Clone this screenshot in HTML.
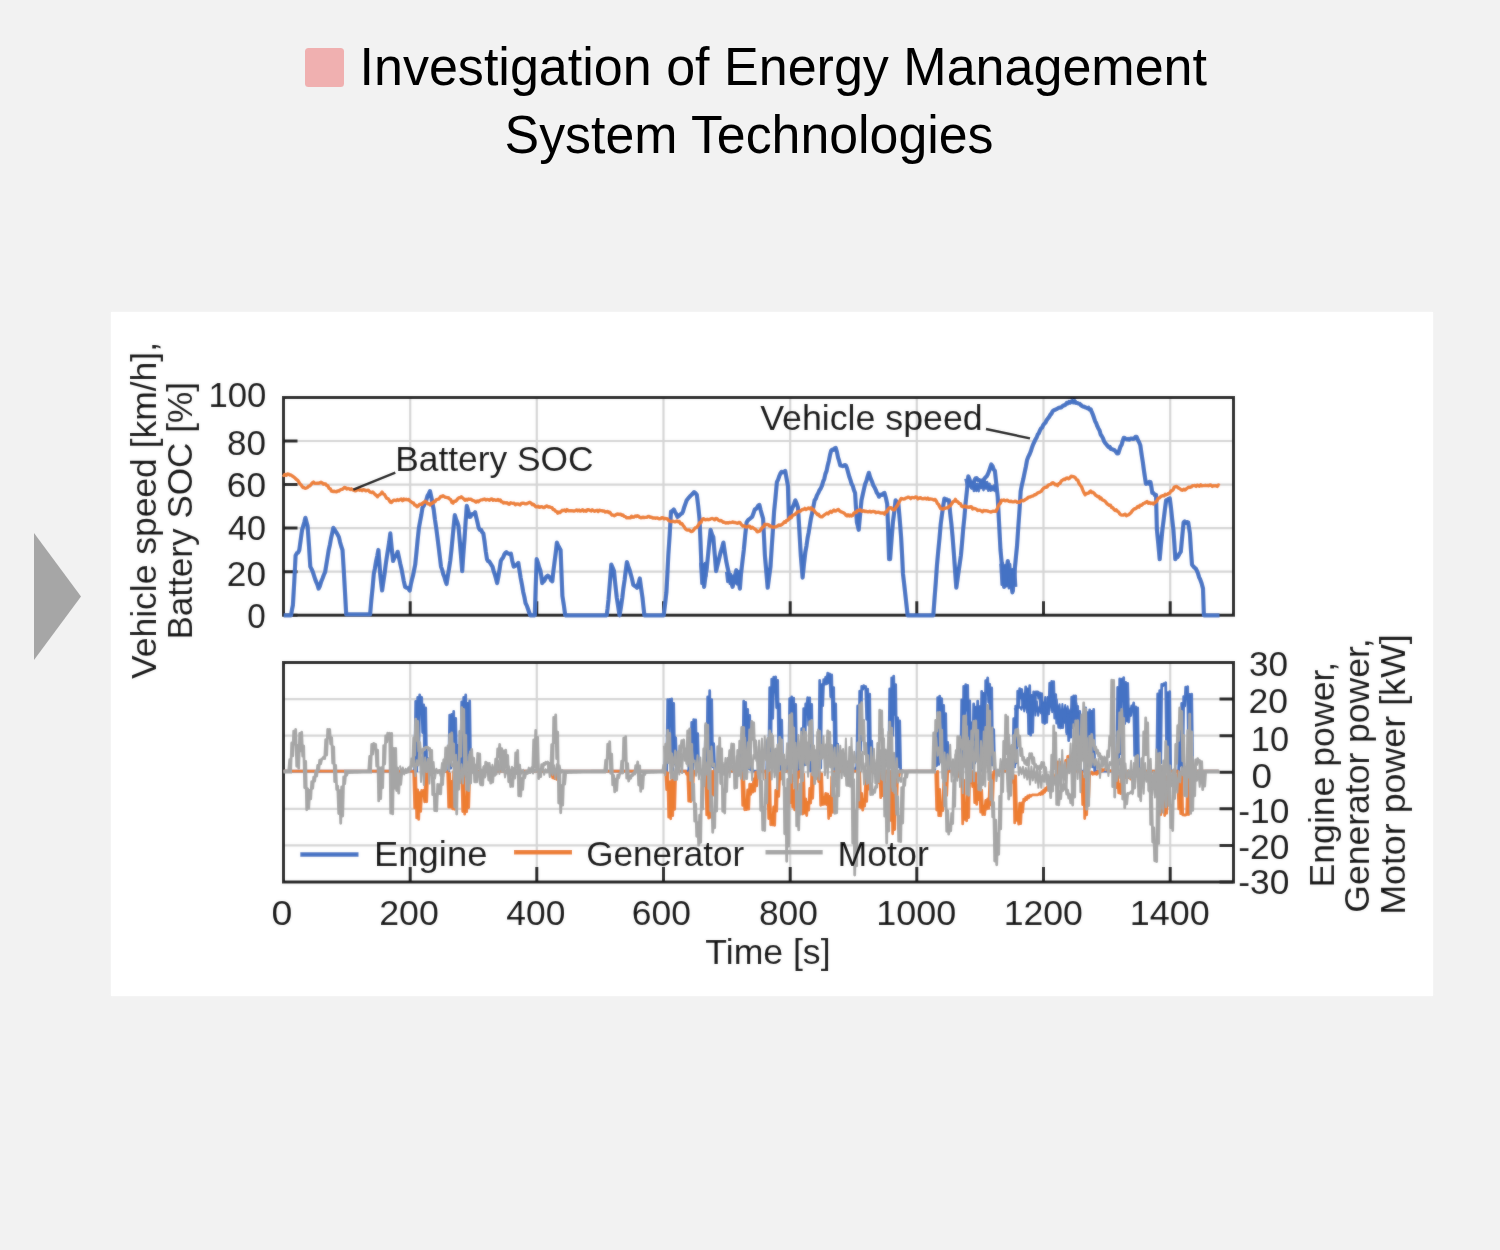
<!DOCTYPE html>
<html><head><meta charset="utf-8"><title>Investigation of Energy Management System Technologies</title>
<style>
html,body{margin:0;padding:0;width:1500px;height:1250px;overflow:hidden;background:#f2f2f2;}
svg{position:absolute;left:0;top:0;display:block;}
text{font-family:"Liberation Sans",sans-serif;}
</style></head><body>
<svg width="1500" height="1250" viewBox="0 0 1500 1250">
<rect x="0" y="0" width="1500" height="1250" fill="#f2f2f2"/>
<polygon points="34,533 81,596.5 34,660" fill="#a6a6a6"/>
<rect x="305" y="48" width="39" height="39" rx="3.5" fill="#f0b0b0"/>
<text transform="translate(359.52,85.20) scale(0.9728,1)" font-size="53.5" fill="#000">Investigation of Energy Management</text>
<text transform="translate(504.57,153.00) scale(0.9694,1)" font-size="53.5" fill="#000">System Technologies</text>
<defs><filter id="soft" x="0" y="0" width="1500" height="1250" filterUnits="userSpaceOnUse"><feGaussianBlur stdDeviation="1.0"/></filter><filter id="ident" x="0" y="0" width="1500" height="1250" filterUnits="userSpaceOnUse"><feOffset dx="0" dy="0"/></filter></defs>
<g filter="url(#ident)"><g id="chart">
<rect x="111" y="312" width="1322" height="684" fill="#ffffff"/>
<path d="M283.5,571.7H1233.5M283.5,528.1H1233.5M283.5,484.6H1233.5M283.5,441.0H1233.5M410.2,397.5V615.2M536.8,397.5V615.2M663.5,397.5V615.2M790.2,397.5V615.2M916.8,397.5V615.2M1043.5,397.5V615.2M1170.2,397.5V615.2M283.5,845.4H1233.5M283.5,808.8H1233.5M283.5,772.2H1233.5M283.5,735.7H1233.5M283.5,699.1H1233.5M410.2,662.5V882.0M536.8,662.5V882.0M663.5,662.5V882.0M790.2,662.5V882.0M916.8,662.5V882.0M1043.5,662.5V882.0M1170.2,662.5V882.0" stroke="#d5d5d5" stroke-width="2.2" fill="none"/>
<rect x="283.5" y="397.5" width="950.0" height="217.70000000000005" fill="none" stroke="#111111" stroke-width="3"/>
<rect x="283.5" y="662.5" width="950.0" height="219.5" fill="none" stroke="#111111" stroke-width="3"/>
<path d="M283.5,615.2h14M283.5,571.7h14M283.5,528.1h14M283.5,484.6h14M283.5,441.0h14M283.5,397.5h14M410.2,615.2v-14M536.8,615.2v-14M663.5,615.2v-14M790.2,615.2v-14M916.8,615.2v-14M1043.5,615.2v-14M1170.2,615.2v-14M1233.5,882.0h-14M1233.5,845.4h-14M1233.5,808.8h-14M1233.5,772.2h-14M1233.5,735.7h-14M1233.5,699.1h-14M1233.5,662.5h-14M410.2,882.0v-15M536.8,882.0v-15M663.5,882.0v-15M790.2,882.0v-15M916.8,882.0v-15M1043.5,882.0v-15M1170.2,882.0v-15" stroke="#111111" stroke-width="3" fill="none"/>
<polyline points="700.3,562.6 701.5,583.8 702.7,564.1 703.9,587.3 705.1,563.0 706.3,576.0 707.5,564.4" fill="none" stroke="#4472c4" stroke-width="2.6" stroke-linejoin="round"/>
<polyline points="726.2,571.8 727.4,581.9 728.6,573.7 729.8,583.8 731.0,574.2 732.2,585.9 733.4,575.8 734.6,583.4 735.8,574.6 737.0,584.4 738.2,571.4 739.4,583.9 740.6,569.8" fill="none" stroke="#4472c4" stroke-width="2.6" stroke-linejoin="round"/>
<polyline points="965.5,478.7 966.7,484.4 967.9,479.3 969.1,486.1 970.3,481.4 971.5,488.2 972.7,483.2 973.9,491.0 975.1,483.5 976.3,490.9 977.5,483.7 978.7,491.1 979.9,484.1 981.1,488.0 982.3,481.7 983.5,490.1 984.7,481.1 985.9,488.5 987.1,482.0 988.3,490.8 989.5,483.7 990.7,490.7 991.9,486.2 993.1,490.2 994.3,485.3 995.5,492.0" fill="none" stroke="#4472c4" stroke-width="2.6" stroke-linejoin="round"/>
<polyline points="1000.5,563.7 1001.7,584.6 1002.9,563.0 1004.1,580.4 1005.3,565.3 1006.5,586.3 1007.7,561.9 1008.9,588.3 1010.1,564.2 1011.3,586.0 1012.5,569.2 1013.7,590.8 1014.9,564.6 1016.1,586.9" fill="none" stroke="#4472c4" stroke-width="2.6" stroke-linejoin="round"/>
<polyline points="283.7,615.3 284.9,615.3 286.1,615.3 287.4,615.3 288.6,615.3 289.8,615.3 291.0,615.3 292.0,609.7 292.9,605.2 294.3,581.0 295.6,555.5 296.9,553.2 298.1,552.6 299.3,550.0 300.7,539.9 302.1,529.8 303.2,526.0 304.3,522.3 305.4,517.8 306.5,522.0 307.6,526.1 309.0,546.0 310.3,566.6 311.6,569.1 312.8,571.9 314.0,575.7 315.2,579.4 316.3,582.1 317.5,584.8 318.6,588.6 319.9,586.0 321.2,581.6 322.5,578.5 323.8,575.0 325.1,572.1 326.3,564.9 327.5,557.5 328.7,550.0 329.9,544.7 331.0,538.5 332.2,533.1 333.3,527.9 334.4,529.3 335.5,531.3 336.6,532.8 337.7,534.7 338.9,537.1 340.1,542.3 341.3,546.5 342.5,550.0 343.8,570.9 345.0,592.1 346.2,614.4 347.4,614.4 348.6,614.4 349.8,614.4 351.0,614.4 352.2,614.4 353.4,614.4 354.6,614.4 355.8,614.4 357.0,614.4 358.2,614.4 359.4,614.4 360.6,614.4 361.7,614.4 362.9,614.4 364.1,614.4 365.3,614.4 366.5,614.4 367.7,614.4 368.9,614.4 370.1,614.4 371.3,600.3 372.6,587.8 373.8,573.9 374.9,568.4 376.1,561.1 377.2,556.1 378.4,550.0 379.3,561.1 380.2,573.9 381.1,582.2 382.1,590.5 383.3,582.1 384.5,574.2 385.7,564.7 386.9,556.5 388.0,549.6 389.2,541.9 390.3,533.4 391.7,548.0 393.1,561.0 394.3,557.8 395.4,556.4 396.6,555.0 397.7,551.8 398.9,557.2 400.2,563.4 401.4,568.4 402.6,574.6 403.8,581.1 405.1,586.8 406.2,587.7 407.4,587.8 408.5,588.8 409.7,590.5 410.8,584.6 411.9,579.7 413.0,575.8 414.1,570.1 415.2,564.7 416.4,553.0 417.6,540.3 418.9,527.9 420.1,521.4 421.3,515.0 422.5,507.7 423.8,505.7 425.0,502.9 426.3,500.0 427.5,495.9 428.8,493.7 430.0,491.1 431.2,496.4 432.5,503.5 433.7,509.5 434.9,519.3 436.1,527.1 437.4,537.1 438.6,546.4 439.8,556.5 441.0,566.6 442.1,569.6 443.2,574.1 444.3,576.8 445.4,580.8 446.6,584.0 447.8,576.3 449.0,568.8 450.2,561.0 451.4,550.3 452.5,538.8 453.7,525.9 454.8,515.1 456.1,519.4 457.3,522.1 458.5,526.1 459.7,540.4 461.0,555.9 462.2,571.1 463.3,554.8 464.5,539.3 465.6,522.0 466.8,505.9 468.2,510.5 469.5,516.9 470.6,516.6 471.7,514.4 472.9,514.1 474.0,513.8 475.1,512.3 476.3,517.5 477.5,522.6 478.7,527.9 479.9,529.9 481.0,529.8 482.2,532.2 483.3,533.4 484.6,541.9 485.8,551.5 487.0,559.2 488.1,561.2 489.2,561.3 490.3,563.1 491.4,565.0 492.5,566.6 493.7,571.1 494.8,574.5 496.0,578.7 497.1,583.1 498.4,576.5 499.6,569.2 500.8,561.0 502.0,558.8 503.1,557.6 504.3,554.5 505.4,552.8 506.5,552.2 507.6,553.2 508.7,553.6 509.8,554.2 510.9,553.7 512.3,561.0 513.7,566.6 514.8,566.1 516.0,565.2 517.1,564.2 518.3,562.9 519.5,570.6 520.7,578.1 522.0,584.9 523.2,591.9 524.4,597.0 525.6,603.3 526.8,605.6 527.9,608.8 529.1,612.3 530.2,615.3 531.4,615.3 532.5,615.3 533.7,615.3 534.8,615.3 535.7,586.7 536.7,559.2 537.9,562.6 539.1,567.1 540.3,570.2 541.3,575.9 542.2,583.1 543.3,581.5 544.4,580.7 545.5,578.3 546.6,576.4 547.7,575.7 548.9,576.7 550.0,577.8 551.1,580.4 552.3,581.3 553.4,571.0 554.6,561.4 555.7,552.9 556.9,542.6 558.1,545.7 559.3,547.7 560.6,550.0 561.5,573.7 562.4,596.0 563.8,604.8 565.2,615.3 566.4,615.3 567.5,615.3 568.7,615.3 569.9,615.3 571.1,615.3 572.2,615.3 573.4,615.3 574.6,615.3 575.8,615.3 577.0,615.3 578.1,615.3 579.3,615.3 580.5,615.3 581.7,615.3 582.9,615.3 584.0,615.3 585.2,615.3 586.4,615.3 587.6,615.3 588.8,615.3 589.9,615.3 591.1,615.3 592.3,615.3 593.5,615.3 594.7,615.3 595.9,615.3 597.1,615.3 598.3,615.3 599.5,615.3 600.7,615.3 601.9,615.3 603.1,615.3 604.3,615.3 605.5,615.3 606.7,615.3 607.6,608.3 608.5,599.7 609.9,582.3 611.3,564.7 612.6,567.6 614.0,571.1 615.4,585.1 616.8,597.8 618.2,606.8 619.5,615.3 620.9,607.4 622.3,597.8 623.4,588.1 624.6,580.0 625.7,570.9 626.9,562.0 628.3,566.4 629.7,570.2 630.9,574.7 632.1,579.2 633.3,584.9 634.6,585.9 635.8,586.5 637.0,587.7 638.4,583.8 639.8,578.5 641.1,588.1 642.5,597.8 643.4,606.4 644.4,615.3 645.6,615.3 646.8,615.3 648.0,615.3 649.2,615.3 650.4,615.3 651.6,615.3 652.8,615.3 654.0,615.3 655.2,615.3 656.4,615.3 657.6,615.3 658.9,615.3 660.1,615.3 661.3,615.3 662.5,615.3 663.7,615.3 665.1,604.0 666.4,592.3 667.4,574.0 668.3,555.5 669.7,534.3 671.0,511.4 672.4,511.0 673.8,509.5 675.0,512.0 676.2,513.9 677.5,516.9 678.6,516.0 679.7,515.1 680.8,514.0 681.9,513.4 683.0,511.4 684.2,507.2 685.4,503.9 686.7,500.3 687.9,498.8 689.1,497.3 690.3,496.0 691.6,494.8 692.8,493.5 694.0,492.1 695.4,493.0 696.8,494.8 698.2,506.1 699.5,518.7 700.5,541.4 701.4,564.7 702.8,575.1 704.1,586.8 705.5,576.3 706.9,566.6 708.1,554.6 709.3,542.2 710.6,529.8 712.0,534.3 713.3,537.1 714.7,554.2 716.1,571.1 717.2,566.4 718.4,561.8 719.5,557.1 720.7,551.8 722.1,547.4 723.4,542.6 724.8,552.0 726.2,561.0 727.6,567.7 729.0,573.9 730.2,577.9 731.4,583.0 732.6,586.8 733.9,581.5 735.1,575.4 736.3,570.2 737.5,575.9 738.7,581.7 739.9,588.6 741.0,573.9 742.4,561.7 743.8,550.0 745.2,535.3 746.6,522.4 747.7,520.7 748.8,519.4 749.9,518.7 751.0,517.7 752.1,516.9 753.4,513.4 754.8,509.5 756.0,508.9 757.1,507.5 758.3,505.5 759.4,504.9 760.7,510.2 761.9,514.6 763.1,518.7 764.0,537.1 764.9,555.5 766.3,571.9 767.7,587.7 769.1,577.1 770.5,566.6 771.7,547.6 772.9,530.0 774.1,511.4 775.5,497.5 776.9,482.0 778.0,479.9 779.2,476.3 780.3,473.7 781.5,471.8 782.7,472.3 783.9,472.0 785.2,470.9 786.6,478.7 787.9,485.6 788.9,518.7 790.1,515.5 791.3,510.7 792.5,507.7 793.9,504.6 795.3,500.3 796.7,503.5 798.0,507.7 799.4,531.0 800.8,555.5 801.7,566.4 802.6,577.6 804.0,563.8 805.4,551.8 806.5,545.8 807.6,538.0 808.7,532.4 809.8,525.5 810.9,518.7 812.1,513.1 813.4,506.7 814.6,500.3 815.8,498.7 817.0,495.2 818.3,493.0 819.5,490.2 820.7,488.5 822.0,485.6 823.1,481.6 824.3,478.8 825.4,473.9 826.6,470.9 827.7,465.4 828.9,460.7 830.0,455.1 831.1,450.7 832.3,449.5 833.4,449.9 834.6,448.4 835.7,447.9 836.9,451.8 838.0,457.3 839.2,461.2 840.3,465.4 841.4,465.6 842.6,466.1 843.7,465.8 844.8,465.0 845.9,465.4 847.0,468.2 848.2,472.8 849.3,476.8 850.5,480.1 851.6,483.9 852.8,486.0 853.9,490.0 855.1,493.0 856.0,508.5 856.9,522.4 857.8,525.7 858.7,529.8 860.1,514.7 861.5,500.3 862.7,494.7 863.9,489.4 865.2,483.8 866.4,481.0 867.6,476.6 868.9,472.8 870.0,476.7 871.1,479.5 872.3,482.4 873.4,485.6 874.6,487.5 875.7,489.8 876.8,492.8 877.9,493.9 879.0,496.7 880.1,495.3 881.2,494.7 882.3,494.8 883.4,493.5 884.5,493.0 885.9,498.0 887.2,504.0 888.2,531.3 889.1,559.2 890.1,559.2 891.5,540.1 892.9,522.4 894.3,511.3 895.6,500.3 897.0,502.7 898.4,504.0 899.8,520.5 901.1,537.1 902.1,555.4 903.0,573.9 904.1,583.4 905.3,594.2 906.4,604.2 907.6,615.3 908.8,615.3 910.0,615.3 911.3,615.3 912.5,615.3 913.7,615.3 914.9,615.3 916.2,615.3 917.4,615.3 918.6,615.3 919.8,615.3 921.1,615.3 922.3,615.3 923.5,615.3 924.8,615.3 926.0,615.3 927.2,615.3 928.4,615.3 929.7,615.3 930.9,615.3 932.1,615.3 933.3,615.3 934.6,597.6 935.8,582.2 937.0,564.7 938.2,551.6 939.5,538.3 940.7,524.3 941.9,515.0 943.1,506.8 944.4,498.5 945.5,499.7 946.7,499.3 947.8,500.7 949.0,500.3 950.2,513.4 951.4,524.0 952.6,537.1 953.9,553.9 955.1,571.0 956.3,587.7 957.5,579.4 958.6,571.4 959.8,563.3 960.9,555.5 962.1,542.2 963.2,528.9 964.4,517.3 965.5,504.0 966.9,491.1 968.3,476.4 969.5,479.3 970.7,484.4 972.0,487.5 973.2,484.5 974.4,480.5 975.6,478.3 976.7,478.2 977.8,479.8 978.9,479.8 980.0,480.9 981.1,482.0 982.3,480.4 983.4,480.6 984.5,478.6 985.6,477.2 986.7,476.4 987.8,474.2 989.0,471.3 990.1,467.9 991.3,464.5 992.5,466.0 993.7,469.5 994.9,470.9 996.3,483.7 997.7,496.7 999.1,523.8 1000.5,550.0 1001.7,562.7 1002.9,574.8 1004.1,586.8 1005.4,578.7 1006.6,570.2 1007.8,561.0 1009.0,568.8 1010.1,576.6 1011.3,583.8 1012.4,592.3 1013.6,580.6 1014.7,570.0 1015.9,557.3 1017.0,546.3 1018.2,528.4 1019.5,510.1 1020.7,491.1 1022.0,484.4 1023.3,479.1 1024.6,472.7 1025.8,467.0 1027.1,459.9 1028.4,456.6 1029.6,454.2 1030.8,451.3 1032.0,447.4 1033.3,444.1 1034.5,441.5 1035.6,439.1 1036.7,437.4 1037.8,434.4 1038.8,433.3 1039.9,430.5 1041.0,428.4 1042.1,427.6 1043.2,425.1 1044.3,423.7 1045.4,422.7 1046.6,420.3 1047.8,418.6 1049.0,417.2 1050.2,415.0 1051.5,413.5 1052.7,411.1 1053.9,410.2 1055.1,409.8 1056.4,409.2 1057.6,408.5 1058.8,407.8 1060.0,407.6 1061.3,407.5 1062.4,406.2 1063.5,405.4 1064.6,405.3 1065.7,404.5 1066.8,402.9 1067.9,403.3 1069.0,402.0 1070.1,402.5 1071.2,401.6 1072.3,401.0 1073.5,402.4 1074.8,401.3 1076.0,402.9 1077.2,403.0 1078.4,403.4 1079.7,403.8 1080.8,405.0 1081.9,405.9 1083.0,406.6 1084.1,406.5 1085.2,407.5 1086.3,407.6 1087.4,408.4 1088.5,407.8 1089.6,409.5 1090.7,409.3 1091.8,412.2 1092.9,414.7 1094.0,417.8 1095.1,421.2 1096.2,423.1 1097.3,426.2 1098.4,428.5 1099.5,430.3 1100.6,434.3 1101.7,436.0 1103.0,438.2 1104.2,441.6 1105.4,443.3 1106.5,444.4 1107.6,445.9 1108.7,447.3 1109.8,447.0 1110.9,448.9 1112.1,449.2 1113.4,449.8 1114.6,450.3 1115.8,451.6 1117.0,453.4 1118.3,453.4 1119.4,449.9 1120.5,446.5 1121.6,444.9 1122.7,440.9 1123.8,437.8 1124.9,438.1 1126.0,438.9 1127.1,439.5 1128.2,438.8 1129.3,439.7 1130.5,438.7 1131.8,438.6 1133.0,438.9 1134.2,438.6 1135.4,436.8 1136.7,436.9 1137.9,440.0 1139.1,442.3 1140.3,445.2 1141.6,454.4 1142.8,462.0 1144.0,470.9 1144.9,476.9 1145.9,483.8 1147.0,482.5 1148.2,483.5 1149.3,481.8 1150.5,482.0 1151.4,487.1 1152.3,493.0 1153.5,493.1 1154.8,495.0 1156.0,494.8 1156.9,529.8 1158.3,543.7 1159.7,559.2 1161.0,544.2 1162.4,529.8 1163.6,520.3 1164.9,509.6 1166.1,500.3 1167.3,499.9 1168.5,499.0 1169.8,498.5 1171.0,508.1 1172.2,519.5 1173.4,529.8 1174.4,544.2 1175.3,559.2 1176.4,557.2 1177.5,557.1 1178.6,555.4 1179.7,553.2 1180.8,551.8 1182.2,536.8 1183.6,522.4 1184.7,521.5 1185.9,522.8 1187.0,522.0 1188.2,522.4 1189.9,533.4 1190.9,549.1 1192.0,564.7 1193.2,566.2 1194.4,567.6 1195.6,568.4 1196.8,570.5 1197.9,573.2 1199.1,577.2 1200.2,579.4 1201.6,583.2 1203.0,588.6 1203.9,615.3 1205.1,615.3 1206.3,615.3 1207.5,615.3 1208.7,615.3 1209.9,615.3 1211.1,615.3 1212.3,615.3 1213.5,615.3 1214.7,615.3 1215.9,615.3 1217.1,615.3 1218.3,615.3 1219.5,615.3" fill="none" stroke="#4472c4" stroke-width="4.2" stroke-linejoin="round"/>
<polyline points="282.8,474.6 283.9,475.4 285.1,474.4 286.3,475.3 287.5,474.0 288.7,474.2 289.9,475.1 291.0,475.0 292.3,476.0 293.6,476.9 294.9,477.8 296.2,479.3 297.5,480.1 298.6,481.5 299.7,483.5 300.8,484.6 301.9,486.1 303.0,487.5 304.1,487.7 305.3,488.4 306.4,488.0 307.6,487.5 308.7,486.2 309.9,485.8 311.0,484.6 312.2,482.9 313.4,482.1 314.7,483.3 316.0,483.4 317.2,483.3 318.5,483.3 319.8,482.9 321.0,482.2 322.3,482.9 323.4,484.2 324.5,483.8 325.6,484.0 326.7,485.5 327.8,485.6 329.0,488.4 330.3,488.9 331.5,491.1 332.7,491.5 333.9,491.3 335.2,491.5 336.4,491.9 337.6,490.9 338.9,491.1 340.0,490.0 341.1,489.5 342.2,489.4 343.3,488.6 344.4,487.5 345.5,487.6 346.7,489.0 347.8,488.4 349.0,488.6 350.1,489.6 351.3,488.8 352.4,489.7 353.6,490.2 354.8,490.7 356.0,490.7 357.2,489.8 358.5,489.7 359.7,490.2 360.9,489.9 362.1,490.7 363.4,489.7 364.6,489.9 365.8,490.8 367.0,490.4 368.3,490.2 369.4,491.5 370.5,492.2 371.6,492.5 372.7,491.9 373.8,493.0 375.0,494.4 376.2,495.4 377.5,496.7 378.6,495.3 379.8,494.8 380.9,493.8 382.1,492.1 383.3,493.9 384.5,494.5 385.7,496.7 386.9,498.4 388.0,498.6 389.2,500.3 390.3,502.2 391.5,502.5 392.6,501.1 393.8,500.2 394.9,500.3 396.2,500.6 397.5,499.6 398.7,500.4 400.0,499.6 401.2,499.1 402.5,500.7 403.7,499.0 405.0,499.7 406.2,499.3 407.5,499.8 408.7,499.4 409.9,501.1 411.1,501.7 412.3,502.7 413.5,502.9 414.6,505.1 415.8,505.2 417.0,506.8 418.2,506.0 419.4,504.4 420.6,504.1 421.7,504.3 422.9,502.9 424.1,502.1 425.3,501.3 426.5,501.9 427.6,503.7 428.8,503.6 430.0,504.9 431.2,503.3 432.5,503.2 433.7,501.8 434.9,501.8 436.1,499.8 437.4,499.4 438.5,499.2 439.6,498.1 440.7,496.4 441.8,496.6 442.9,495.7 444.0,496.4 445.1,497.3 446.2,497.4 447.3,497.7 448.4,497.6 449.5,499.0 450.7,499.5 451.8,502.3 453.0,503.1 454.2,501.3 455.4,501.4 456.5,500.5 457.7,498.7 458.9,497.7 460.1,497.7 461.3,496.7 462.5,497.9 463.7,498.8 464.9,500.3 466.1,499.3 467.2,500.1 468.4,499.0 469.5,499.4 470.8,499.1 472.1,500.1 473.4,500.7 474.7,501.1 476.0,502.2 477.2,500.9 478.4,501.8 479.7,500.6 480.9,499.9 482.1,499.9 483.3,499.4 484.6,499.0 485.8,500.1 487.0,499.4 488.2,499.6 489.5,500.3 490.7,499.2 491.9,498.9 493.1,500.3 494.4,499.6 495.6,500.3 496.8,500.3 498.0,499.4 499.1,500.5 500.3,500.0 501.4,501.8 502.5,501.9 503.6,503.1 504.7,502.5 505.9,503.0 507.1,502.8 508.2,503.9 509.4,504.3 510.6,502.8 511.8,503.2 512.9,503.4 514.1,503.2 515.3,504.8 516.4,504.0 517.7,503.9 518.9,504.4 520.1,504.9 521.3,503.5 522.6,503.2 523.8,503.1 525.0,503.8 526.2,503.9 527.5,503.4 528.7,502.7 529.9,502.3 531.1,503.1 532.3,504.7 533.4,504.3 534.6,505.4 535.7,506.8 537.0,506.9 538.3,506.3 539.5,507.4 540.8,506.8 542.0,506.8 543.3,507.5 544.5,507.5 545.8,506.3 547.0,505.9 548.3,507.1 549.5,506.8 550.8,507.3 552.0,507.7 553.2,509.5 554.4,509.7 555.5,511.2 556.7,511.6 557.8,513.2 558.9,512.1 560.0,512.6 561.1,511.5 562.2,510.3 563.3,510.5 564.5,509.9 565.8,511.2 567.0,509.6 568.2,510.7 569.4,510.7 570.6,510.8 571.8,510.6 573.0,511.0 574.2,511.0 575.4,510.7 576.6,509.9 577.8,510.9 579.1,510.1 580.3,511.1 581.5,510.6 582.7,509.7 583.9,511.2 585.1,510.4 586.3,511.3 587.5,509.6 588.7,509.8 589.9,510.5 591.1,511.0 592.3,509.8 593.5,510.6 594.6,511.3 595.8,510.6 597.0,510.3 598.2,511.5 599.3,510.2 600.5,510.6 601.7,510.6 602.9,511.1 604.1,510.9 605.2,512.0 606.4,511.8 607.6,511.4 608.7,512.5 609.8,512.2 610.9,513.8 612.0,515.0 613.1,515.1 614.3,515.7 615.6,515.0 616.8,514.2 618.0,514.0 619.2,514.5 620.5,514.1 621.7,515.2 622.9,515.0 624.1,516.3 625.4,516.6 626.6,517.8 627.8,517.8 629.0,517.8 630.3,517.9 631.5,516.2 632.7,517.2 633.9,517.1 635.2,516.0 636.3,516.5 637.4,515.8 638.5,516.2 639.6,517.3 640.7,517.8 641.9,517.5 643.1,517.3 644.4,517.5 645.6,517.4 646.8,517.3 648.0,516.5 649.1,516.5 650.3,517.3 651.4,517.1 652.5,518.0 653.6,517.8 654.7,518.0 655.9,518.2 657.1,517.9 658.2,518.4 659.4,518.9 660.6,518.6 661.8,517.7 662.9,517.7 664.1,518.9 665.3,518.4 666.4,518.7 667.5,519.0 668.6,520.5 669.7,521.0 670.9,521.5 672.0,521.5 673.2,521.2 674.4,521.7 675.6,521.7 676.9,521.0 678.1,521.7 679.3,521.5 680.5,523.8 681.8,523.4 683.0,525.2 684.2,526.7 685.4,528.9 686.7,529.8 687.8,530.1 689.0,529.9 690.1,530.8 691.3,531.6 692.6,531.1 693.8,529.8 695.1,527.9 696.4,527.6 697.7,526.1 698.8,524.3 699.9,522.5 701.0,522.6 702.1,519.8 703.2,518.7 704.3,519.1 705.4,519.9 706.5,519.5 707.6,519.3 708.7,519.7 709.9,519.3 711.1,518.6 712.3,518.5 713.5,519.0 714.6,519.8 715.8,518.4 717.0,518.7 718.3,520.1 719.6,520.8 720.9,520.4 722.2,521.3 723.4,522.4 724.6,522.3 725.8,523.1 727.0,522.7 728.2,523.0 729.3,522.4 730.5,522.6 731.7,522.3 732.9,522.0 734.0,522.6 735.2,522.5 736.4,523.1 737.6,523.2 738.8,522.5 739.9,522.4 741.4,524.6 742.9,526.1 744.0,525.9 745.1,526.4 746.2,527.0 747.3,526.9 748.4,526.1 749.7,526.1 750.9,528.3 752.2,527.3 753.4,528.0 754.7,529.0 756.0,529.9 757.2,531.8 758.5,531.6 759.8,530.9 761.1,529.1 762.4,527.4 763.7,526.6 764.9,524.3 766.1,524.7 767.2,524.4 768.4,524.6 769.5,526.1 770.7,526.0 771.8,526.9 773.0,527.2 774.1,527.0 775.3,526.9 776.4,526.6 777.6,526.0 778.7,525.0 779.9,525.3 781.0,525.0 782.2,524.3 783.3,523.3 784.4,521.7 785.5,522.3 786.6,520.5 787.7,520.3 788.9,518.7 790.1,517.1 791.3,517.7 792.5,515.6 793.8,514.9 795.0,514.5 796.2,513.2 797.4,511.9 798.7,511.5 799.9,511.5 801.1,510.6 802.3,509.4 803.6,509.5 804.8,508.4 806.0,509.6 807.2,508.9 808.5,508.0 809.7,508.7 810.9,507.7 812.0,509.6 813.1,509.2 814.2,510.6 815.3,512.2 816.4,513.2 817.5,514.7 818.6,514.2 819.7,516.2 820.9,516.9 822.0,516.9 823.2,515.8 824.4,514.9 825.6,514.0 826.9,513.0 828.1,513.9 829.3,512.3 830.5,511.3 831.6,512.4 832.8,511.0 833.9,510.1 835.1,511.1 836.2,510.8 837.4,509.8 838.5,509.5 839.7,511.0 841.0,511.8 842.2,512.2 843.4,512.8 844.6,513.5 845.9,515.1 847.0,516.0 848.1,514.7 849.2,516.0 850.3,515.0 851.4,516.0 852.6,515.4 853.8,513.3 855.1,512.5 856.3,512.3 857.5,510.6 858.7,510.5 860.0,509.7 861.2,510.9 862.4,511.4 863.6,510.7 864.9,511.5 866.1,511.3 867.3,511.8 868.5,511.9 869.8,511.3 871.0,512.0 872.2,511.7 873.4,511.4 874.7,511.6 875.9,512.7 877.1,512.4 878.4,512.1 879.6,512.7 880.8,513.1 882.0,512.9 883.3,513.0 884.5,514.1 885.6,512.0 886.7,511.9 887.8,509.8 888.8,508.4 889.9,507.7 891.1,507.6 892.3,509.2 893.5,509.8 894.7,509.5 896.0,507.3 897.3,505.6 898.6,503.1 899.9,500.7 901.1,498.5 902.3,498.7 903.5,499.1 904.7,498.8 905.9,498.0 907.1,497.6 908.3,497.1 909.5,497.5 910.7,498.6 911.9,497.5 913.1,497.6 914.3,497.8 915.6,497.0 916.8,497.2 918.0,498.9 919.2,498.2 920.5,497.7 921.7,498.6 922.9,498.8 924.1,498.5 925.4,498.3 926.6,499.1 927.8,498.1 929.0,499.3 930.3,498.9 931.5,499.1 932.7,499.4 933.9,500.0 935.2,499.4 936.3,500.9 937.4,503.5 938.5,504.3 939.6,506.7 940.7,508.6 941.9,508.9 943.1,509.0 944.4,508.3 945.6,508.2 946.8,507.9 948.0,507.7 949.3,506.0 950.5,505.6 951.7,503.7 953.0,501.8 954.2,501.3 955.4,499.4 956.6,501.3 957.9,501.8 959.1,503.4 960.3,503.6 961.5,506.0 962.8,506.8 964.0,506.5 965.2,505.9 966.4,507.2 967.7,506.9 968.9,507.4 970.1,506.8 971.3,506.7 972.6,508.9 973.8,508.3 975.0,508.6 976.2,509.0 977.5,510.5 978.7,510.2 979.9,510.1 981.1,510.9 982.4,511.7 983.6,510.5 984.8,510.8 986.1,510.8 987.3,510.9 988.5,511.4 989.7,511.7 991.0,512.1 992.2,511.5 993.4,511.2 994.6,511.2 995.9,511.4 997.0,509.3 998.1,506.6 999.2,504.3 1000.3,503.3 1001.4,500.3 1002.6,500.5 1003.8,500.0 1005.1,500.9 1006.3,500.5 1007.5,500.2 1008.7,501.3 1010.0,501.5 1011.2,501.2 1012.4,501.9 1013.6,501.9 1014.9,501.2 1016.1,501.5 1017.3,502.4 1018.5,502.0 1019.8,502.2 1021.0,500.9 1022.2,500.4 1023.4,500.8 1024.7,500.0 1025.9,499.2 1027.1,498.5 1028.4,497.1 1029.6,497.1 1030.8,496.6 1032.0,496.2 1033.3,495.8 1034.5,494.8 1035.6,494.7 1036.7,493.9 1037.8,492.8 1038.8,492.5 1039.9,492.1 1041.1,491.4 1042.3,489.7 1043.5,488.4 1044.7,487.5 1045.9,487.3 1047.2,486.8 1048.4,485.0 1049.6,484.6 1050.8,484.4 1052.1,482.9 1053.2,482.8 1054.3,483.6 1055.4,484.8 1056.5,484.5 1057.6,485.6 1058.8,483.7 1060.0,483.4 1061.3,481.0 1062.5,480.2 1063.7,479.3 1064.9,479.5 1066.2,478.2 1067.4,478.0 1068.6,478.8 1069.8,478.1 1071.1,476.3 1072.3,476.4 1073.4,476.7 1074.5,477.1 1075.6,478.1 1076.7,479.9 1077.8,480.1 1079.0,483.3 1080.3,485.2 1081.5,486.7 1082.7,489.9 1083.9,492.7 1085.2,494.8 1086.3,493.4 1087.4,493.5 1088.5,493.1 1089.6,491.7 1090.7,491.1 1091.9,492.6 1093.0,492.2 1094.2,493.2 1095.4,495.0 1096.5,495.7 1097.7,496.7 1098.9,496.4 1100.1,498.7 1101.2,498.1 1102.4,499.9 1103.6,500.3 1104.7,500.9 1105.9,502.2 1107.0,503.8 1108.2,504.5 1109.3,505.4 1110.5,505.2 1111.6,507.5 1112.8,507.7 1113.9,509.3 1115.1,510.4 1116.2,509.8 1117.4,511.2 1118.5,511.9 1119.7,513.8 1120.8,514.9 1122.0,515.1 1123.1,515.1 1124.2,514.6 1125.3,514.2 1126.4,515.7 1127.5,515.1 1128.6,514.9 1129.8,513.7 1130.9,512.9 1132.1,511.0 1133.2,509.8 1134.4,508.8 1135.5,508.9 1136.7,507.7 1137.8,506.4 1139.0,507.1 1140.1,505.2 1141.3,505.4 1142.4,504.5 1143.6,503.3 1144.7,503.1 1145.9,502.2 1147.1,501.6 1148.3,503.3 1149.5,502.5 1150.8,503.6 1152.0,503.0 1153.2,504.0 1154.4,502.9 1155.7,502.0 1156.9,500.9 1158.1,498.5 1159.3,497.9 1160.6,496.7 1161.7,496.0 1162.9,495.6 1164.0,495.9 1165.2,494.3 1166.3,494.8 1167.5,494.3 1168.6,493.3 1169.8,493.0 1170.9,491.0 1172.0,490.8 1173.1,489.8 1174.2,487.3 1175.3,486.6 1176.5,486.5 1177.7,487.3 1179.0,488.3 1180.2,488.9 1181.4,490.1 1182.6,490.2 1183.9,489.2 1185.1,490.0 1186.3,488.9 1187.5,488.0 1188.7,487.1 1189.9,487.5 1191.2,487.0 1192.5,485.7 1193.8,485.6 1194.9,485.5 1196.1,486.5 1197.2,485.1 1198.4,485.5 1199.5,486.3 1200.7,484.8 1201.8,485.9 1203.0,485.6 1204.2,485.6 1205.4,485.3 1206.5,485.6 1207.7,485.5 1208.9,485.7 1210.1,484.9 1211.3,485.4 1212.4,486.4 1213.6,485.6 1214.8,485.9 1216.0,485.6 1217.2,486.5 1218.4,484.9 1219.5,485.6" fill="none" stroke="#ed7d31" stroke-width="3.4" stroke-linejoin="round"/>
<polyline points="283.7,771.2 284.7,771.2 285.7,771.2 286.7,771.2 287.7,771.2 288.7,771.2 289.7,771.2 290.7,771.2 291.7,771.2 292.7,771.2 293.7,771.2 294.7,771.2 295.7,771.2 296.7,771.2 297.7,771.2 298.7,771.2 299.7,771.2 300.7,771.2 301.7,771.2 302.7,771.2 303.7,771.2 304.7,771.2 305.7,771.2 306.7,771.2 307.7,771.2 308.7,771.2 309.7,771.2 310.7,771.2 311.7,771.2 312.7,771.2 313.7,771.2 314.7,771.2 315.7,771.2 316.7,771.2 317.7,771.2 318.7,771.2 319.7,771.2 320.7,771.2 321.7,771.2 322.7,771.2 323.7,771.2 324.7,771.2 325.7,771.2 326.7,771.2 327.7,771.2 328.7,771.2 329.7,771.2 330.7,771.2 331.7,771.2 332.7,771.2 333.7,771.2 334.7,771.2 335.7,771.2 336.7,771.2 337.7,771.2 338.7,771.2 339.7,771.2 340.7,771.2 341.7,771.2 342.7,771.2 343.7,771.2 344.7,771.2 345.7,771.2 346.7,771.2 347.7,771.2 348.7,771.2 349.7,771.2 350.7,771.2 351.7,771.2 352.7,771.2 353.7,771.2 354.7,771.2 355.7,771.2 356.7,771.2 357.7,771.2 358.7,771.2 359.7,771.2 360.7,771.2 361.7,771.2 362.7,771.2 363.7,771.2 364.7,771.2 365.7,771.2 366.7,771.2 367.7,771.2 368.7,771.2 369.7,771.2 370.7,771.2 371.7,771.2 372.7,771.2 373.7,771.2 374.7,771.2 375.7,771.2 376.7,771.2 377.7,771.2 378.7,771.2 379.7,771.2 380.7,771.2 381.7,771.2 382.7,771.2 383.7,771.2 384.7,771.2 385.7,771.2 386.7,771.2 387.7,771.2 388.7,771.2 389.7,771.2 390.7,771.2 391.7,771.2 392.7,771.2 393.7,771.2 394.7,771.2 395.7,771.2 396.7,771.2 397.7,771.2 398.7,771.2 399.7,771.2 400.7,771.2 401.7,771.2 402.7,771.2 403.7,771.2 404.7,771.2 405.7,771.2 406.7,771.2 407.7,771.2 408.7,771.2 409.7,771.2 410.7,771.2 411.7,771.2 412.7,771.2 413.7,771.2 414.7,769.5 415.7,701.3 416.7,771.2 417.7,697.4 418.7,756.1 419.7,694.9 420.7,701.7 421.7,697.4 422.7,732.5 423.7,704.9 424.7,767.7 425.7,707.9 426.7,769.6 427.7,758.4 428.7,771.2 429.7,771.2 430.7,771.2 431.7,771.2 432.7,771.2 433.7,771.2 434.7,771.2 435.7,771.2 436.7,771.2 437.7,771.2 438.7,771.2 439.7,771.2 440.7,771.2 441.7,771.2 442.7,771.2 443.7,771.2 444.7,771.2 445.7,771.2 446.7,771.2 447.7,771.2 448.7,771.1 449.7,715.1 450.7,768.2 451.7,714.3 452.7,757.3 453.7,711.5 454.7,761.7 455.7,718.3 456.7,769.0 457.7,745.6 458.7,770.5 459.7,770.7 460.7,768.0 461.7,701.8 462.7,770.9 463.7,697.4 464.7,754.4 465.7,694.9 466.7,754.3 467.7,703.4 468.7,766.3 469.7,700.9 470.7,770.0 471.7,768.9 472.7,771.2 473.7,771.2 474.7,771.2 475.7,771.2 476.7,771.2 477.7,771.2 478.7,771.2 479.7,771.2 480.7,771.2 481.7,771.2 482.7,771.2 483.7,771.2 484.7,771.2 485.7,771.2 486.7,771.2 487.7,771.2 488.7,771.2 489.7,771.2 490.7,771.2 491.7,771.2 492.7,771.2 493.7,771.2 494.7,771.2 495.7,771.2 496.7,771.2 497.7,771.2 498.7,771.2 499.7,771.2 500.7,771.2 501.7,771.2 502.7,771.2 503.7,771.2 504.7,771.2 505.7,771.2 506.7,771.2 507.7,771.2 508.7,771.2 509.7,771.2 510.7,771.2 511.7,771.2 512.7,771.2 513.7,771.2 514.7,771.2 515.7,771.2 516.7,771.2 517.7,771.2 518.7,771.2 519.7,771.2 520.7,771.2 521.7,771.2 522.7,771.2 523.7,771.2 524.7,771.2 525.7,771.2 526.7,771.2 527.7,771.2 528.7,771.2 529.7,771.2 530.7,771.2 531.7,771.2 532.7,771.2 533.7,771.2 534.7,771.2 535.7,771.2 536.7,771.2 537.7,771.2 538.7,771.2 539.7,771.2 540.7,771.2 541.7,771.2 542.7,771.2 543.7,771.2 544.7,771.2 545.7,771.2 546.7,771.2 547.7,771.2 548.7,771.2 549.7,771.2 550.7,771.2 551.7,771.2 552.7,771.2 553.7,771.2 554.7,771.2 555.7,771.2 556.7,771.2 557.7,771.2 558.7,771.2 559.7,771.2 560.7,771.2 561.7,771.2 562.7,771.2 563.7,771.2 564.7,771.2 565.7,771.2 566.7,771.2 567.7,771.2 568.7,771.2 569.7,771.2 570.7,771.2 571.7,771.2 572.7,771.2 573.7,771.2 574.7,771.2 575.7,771.2 576.7,771.2 577.7,771.2 578.7,771.2 579.7,771.2 580.7,771.2 581.7,771.2 582.7,771.2 583.7,771.2 584.7,771.2 585.7,771.2 586.7,771.2 587.7,771.2 588.7,771.2 589.7,771.2 590.7,771.2 591.7,771.2 592.7,771.2 593.7,771.2 594.7,771.2 595.7,771.2 596.7,771.2 597.7,771.2 598.7,771.2 599.7,771.2 600.7,771.2 601.7,771.2 602.7,771.2 603.7,771.2 604.7,771.2 605.7,771.2 606.7,771.2 607.7,771.2 608.7,771.2 609.7,771.2 610.7,771.2 611.7,771.2 612.7,771.2 613.7,771.2 614.7,771.2 615.7,771.2 616.7,771.2 617.7,771.2 618.7,771.2 619.7,771.2 620.7,771.2 621.7,771.2 622.7,771.2 623.7,771.2 624.7,771.2 625.7,771.2 626.7,771.2 627.7,771.2 628.7,771.2 629.7,771.2 630.7,771.2 631.7,771.2 632.7,771.2 633.7,771.2 634.7,771.2 635.7,771.2 636.7,771.2 637.7,771.2 638.7,771.2 639.7,771.2 640.7,771.2 641.7,771.2 642.7,771.2 643.7,771.2 644.7,771.2 645.7,771.2 646.7,771.2 647.7,771.2 648.7,771.2 649.7,771.2 650.7,771.2 651.7,771.2 652.7,771.2 653.7,771.2 654.7,771.2 655.7,771.2 656.7,771.2 657.7,771.2 658.7,771.2 659.7,771.2 660.7,771.2 661.7,771.2 662.7,771.2 663.7,771.2 664.7,771.2 665.7,749.0 666.7,771.1 667.7,699.6 668.7,761.9 669.7,699.3 670.7,723.8 671.7,699.0 672.7,770.3 673.7,703.4 674.7,763.8 675.7,738.0 676.7,771.1 677.7,771.2 678.7,771.2 679.7,771.2 680.7,771.2 681.7,771.2 682.7,771.2 683.7,771.2 684.7,771.2 685.7,771.2 686.7,771.2 687.7,771.2 688.7,771.2 689.7,752.1 690.7,771.1 691.7,722.4 692.7,769.9 693.7,719.6 694.7,760.5 695.7,720.0 696.7,768.1 697.7,733.7 698.7,769.9 699.7,768.6 700.7,771.2 701.7,771.2 702.7,771.2 703.7,771.2 704.7,770.5 705.7,725.7 706.7,767.2 707.7,697.0 708.7,767.2 709.7,690.7 710.7,766.0 711.7,699.7 712.7,766.8 713.7,743.7 714.7,771.2 715.7,771.2 716.7,771.2 717.7,771.2 718.7,771.2 719.7,771.2 720.7,771.2 721.7,771.2 722.7,771.2 723.7,771.2 724.7,771.2 725.7,771.2 726.7,771.2 727.7,771.2 728.7,771.2 729.7,771.2 730.7,771.2 731.7,771.2 732.7,771.2 733.7,771.2 734.7,771.2 735.7,771.2 736.7,771.2 737.7,771.2 738.7,771.2 739.7,771.2 740.7,771.1 741.7,734.4 742.7,770.1 743.7,701.2 744.7,764.3 745.7,702.4 746.7,759.4 747.7,709.4 748.7,768.5 749.7,715.5 750.7,769.9 751.7,765.4 752.7,771.2 753.7,771.2 754.7,771.2 755.7,771.2 756.7,771.2 757.7,771.2 758.7,771.2 759.7,771.2 760.7,771.2 761.7,771.2 762.7,771.2 763.7,771.2 764.7,771.2 765.7,771.2 766.7,770.6 767.7,740.2 768.7,768.7 769.7,687.7 770.7,760.9 771.7,679.2 772.7,718.4 773.7,677.2 774.7,691.8 775.7,676.8 776.7,707.8 777.7,680.4 778.7,751.2 779.7,704.1 780.7,769.5 781.7,720.2 782.7,767.6 783.7,769.5 784.7,771.2 785.7,771.2 786.7,771.2 787.7,765.1 788.7,769.3 789.7,698.6 790.7,763.0 791.7,697.0 792.7,738.0 793.7,698.2 794.7,766.4 795.7,704.4 796.7,765.3 797.7,739.8 798.7,771.1 799.7,768.7 800.7,770.1 801.7,728.6 802.7,770.7 803.7,708.6 804.7,764.9 805.7,704.0 806.7,705.9 807.7,697.7 808.7,725.3 809.7,697.8 810.7,771.0 811.7,704.5 812.7,765.7 813.7,751.9 814.7,771.2 815.7,771.2 816.7,771.2 817.7,736.9 818.7,762.4 819.7,680.5 820.7,768.1 821.7,684.7 822.7,705.8 823.7,679.7 824.7,684.3 825.7,677.1 826.7,683.9 827.7,673.2 828.7,682.9 829.7,674.0 830.7,696.8 831.7,674.8 832.7,719.7 833.7,687.6 834.7,770.1 835.7,703.9 836.7,770.5 837.7,744.1 838.7,770.9 839.7,771.2 840.7,771.2 841.7,771.2 842.7,771.2 843.7,771.2 844.7,771.2 845.7,771.2 846.7,771.2 847.7,771.2 848.7,771.2 849.7,771.2 850.7,771.2 851.7,771.2 852.7,771.2 853.7,771.2 854.7,771.2 855.7,768.0 856.7,771.2 857.7,706.0 858.7,761.3 859.7,691.2 860.7,750.5 861.7,686.5 862.7,689.5 863.7,685.7 864.7,687.6 865.7,686.6 866.7,719.3 867.7,689.1 868.7,766.3 869.7,694.1 870.7,764.7 871.7,741.1 872.7,771.2 873.7,771.2 874.7,771.2 875.7,771.2 876.7,771.2 877.7,771.2 878.7,771.2 879.7,771.2 880.7,771.2 881.7,771.2 882.7,771.2 883.7,771.2 884.7,771.2 885.7,771.2 886.7,771.2 887.7,771.2 888.7,770.7 889.7,689.0 890.7,763.9 891.7,677.8 892.7,735.4 893.7,676.1 894.7,714.3 895.7,684.7 896.7,764.5 897.7,717.8 898.7,766.8 899.7,720.9 900.7,771.2 901.7,771.2 902.7,771.2 903.7,771.2 904.7,771.2 905.7,771.2 906.7,771.2 907.7,771.2 908.7,771.2 909.7,771.2 910.7,771.2 911.7,771.2 912.7,771.2 913.7,771.2 914.7,771.2 915.7,771.2 916.7,771.2 917.7,771.2 918.7,771.2 919.7,771.2 920.7,771.2 921.7,771.2 922.7,771.2 923.7,771.2 924.7,771.2 925.7,771.2 926.7,771.2 927.7,771.2 928.7,771.2 929.7,771.2 930.7,771.2 931.7,771.2 932.7,771.2 933.7,771.2 934.7,771.2 935.7,735.1 936.7,765.5 937.7,697.6 938.7,764.4 939.7,696.1 940.7,712.3 941.7,698.6 942.7,732.3 943.7,705.4 944.7,764.0 945.7,713.6 946.7,769.7 947.7,742.4 948.7,770.2 949.7,771.2 950.7,771.2 951.7,771.2 952.7,771.2 953.7,771.2 954.7,771.2 955.7,771.2 956.7,771.2 957.7,771.2 958.7,771.1 959.7,744.9 960.7,764.9 961.7,699.9 962.7,771.1 963.7,686.3 964.7,724.4 965.7,684.7 966.7,710.2 967.7,685.5 968.7,757.1 969.7,700.8 970.7,768.2 971.7,723.0 972.7,768.0 973.7,704.0 974.7,763.2 975.7,707.2 976.7,744.1 977.7,701.1 978.7,756.7 979.7,706.6 980.7,770.2 981.7,691.4 982.7,771.0 983.7,693.4 984.7,747.4 985.7,680.6 986.7,685.4 987.7,677.9 988.7,702.3 989.7,684.1 990.7,764.9 991.7,687.9 992.7,764.9 993.7,729.6 994.7,770.2 995.7,771.2 996.7,771.2 997.7,771.2 998.7,771.2 999.7,771.2 1000.7,771.2 1001.7,771.2 1002.7,771.2 1003.7,771.2 1004.7,771.2 1005.7,771.2 1006.7,771.2 1007.7,771.2 1008.7,771.2 1009.7,771.2 1010.7,771.2 1011.7,771.2 1012.7,768.8 1013.7,718.7 1014.7,766.9 1015.7,706.1 1016.7,762.9 1017.7,691.2 1018.7,706.8 1019.7,688.7 1020.7,697.9 1021.7,689.3 1022.7,703.8 1023.7,694.1 1024.7,704.8 1025.7,686.8 1026.7,705.7 1027.7,688.8 1028.7,733.6 1029.7,685.7 1030.7,735.2 1031.7,695.5 1032.7,732.4 1033.7,691.8 1034.7,709.1 1035.7,691.9 1036.7,691.8 1037.7,691.8 1038.7,697.9 1039.7,692.8 1040.7,710.5 1041.7,693.7 1042.7,722.4 1043.7,702.9 1044.7,723.5 1045.7,710.2 1046.7,722.4 1047.7,697.4 1048.7,713.9 1049.7,683.2 1050.7,705.2 1051.7,681.5 1052.7,707.4 1053.7,681.7 1054.7,718.1 1055.7,694.6 1056.7,723.1 1057.7,715.1 1058.7,727.4 1059.7,721.8 1060.7,727.9 1061.7,718.2 1062.7,727.6 1063.7,710.6 1064.7,722.3 1065.7,708.5 1066.7,732.1 1067.7,709.7 1068.7,740.7 1069.7,712.0 1070.7,737.2 1071.7,697.2 1072.7,727.7 1073.7,695.8 1074.7,705.8 1075.7,695.8 1076.7,764.5 1077.7,706.3 1078.7,767.5 1079.7,711.3 1080.7,771.1 1081.7,771.2 1082.7,771.2 1083.7,771.2 1084.7,771.2 1085.7,707.9 1086.7,770.6 1087.7,712.7 1088.7,769.8 1089.7,710.0 1090.7,764.3 1091.7,711.5 1092.7,766.9 1093.7,709.4 1094.7,771.1 1095.7,771.2 1096.7,771.2 1097.7,771.2 1098.7,771.2 1099.7,771.2 1100.7,771.2 1101.7,771.2 1102.7,771.2 1103.7,771.2 1104.7,771.2 1105.7,771.2 1106.7,771.2 1107.7,771.2 1108.7,771.2 1109.7,771.2 1110.7,771.2 1111.7,771.2 1112.7,771.2 1113.7,771.2 1114.7,771.2 1115.7,771.2 1116.7,769.8 1117.7,687.3 1118.7,764.4 1119.7,678.9 1120.7,753.6 1121.7,679.2 1122.7,681.5 1123.7,677.6 1124.7,723.7 1125.7,682.4 1126.7,720.9 1127.7,683.4 1128.7,722.0 1129.7,709.1 1130.7,715.5 1131.7,705.8 1132.7,709.7 1133.7,703.0 1134.7,755.6 1135.7,706.8 1136.7,770.0 1137.7,708.0 1138.7,769.3 1139.7,768.6 1140.7,771.2 1141.7,771.2 1142.7,771.2 1143.7,771.2 1144.7,771.2 1145.7,771.2 1146.7,771.2 1147.7,771.2 1148.7,771.2 1149.7,771.2 1150.7,771.2 1151.7,771.2 1152.7,771.2 1153.7,771.2 1154.7,771.2 1155.7,771.2 1156.7,770.9 1157.7,693.8 1158.7,769.0 1159.7,690.6 1160.7,763.1 1161.7,684.4 1162.7,685.8 1163.7,683.7 1164.7,684.8 1165.7,682.7 1166.7,762.0 1167.7,692.7 1168.7,762.4 1169.7,691.7 1170.7,771.1 1171.7,771.2 1172.7,771.2 1173.7,771.2 1174.7,771.2 1175.7,771.2 1176.7,771.2 1177.7,771.2 1178.7,770.9 1179.7,730.9 1180.7,765.9 1181.7,703.3 1182.7,770.9 1183.7,696.6 1184.7,706.0 1185.7,687.1 1186.7,694.7 1187.7,686.7 1188.7,764.6 1189.7,694.4 1190.7,766.7 1191.7,694.2 1192.7,768.4 1193.7,771.2 1194.7,771.2 1195.7,771.2 1196.7,771.2 1197.7,771.2 1198.7,771.2 1199.7,771.2 1200.7,771.2 1201.7,771.2 1202.7,771.2 1203.7,771.2 1204.7,771.2 1205.7,771.2 1206.7,771.2 1207.7,771.2 1208.7,771.2 1209.7,771.2 1210.7,771.2 1211.7,771.2 1212.7,771.2 1213.7,771.2 1214.7,771.2 1215.7,771.2 1216.7,771.2 1217.7,771.2 1218.7,771.2" fill="none" stroke="#4472c4" stroke-width="2.8" stroke-linejoin="round"/>
<polyline points="283.7,771.2 284.7,771.2 285.7,771.2 286.7,771.2 287.7,771.2 288.7,771.2 289.7,771.2 290.7,771.2 291.7,771.2 292.7,771.2 293.7,771.2 294.7,771.2 295.7,771.2 296.7,771.2 297.7,771.2 298.7,771.2 299.7,771.2 300.7,771.2 301.7,771.2 302.7,771.2 303.7,771.2 304.7,771.2 305.7,771.2 306.7,771.2 307.7,771.2 308.7,771.2 309.7,771.2 310.7,771.2 311.7,771.2 312.7,771.2 313.7,771.2 314.7,771.2 315.7,771.2 316.7,771.2 317.7,771.2 318.7,771.2 319.7,771.2 320.7,771.2 321.7,771.2 322.7,771.2 323.7,771.2 324.7,771.2 325.7,771.2 326.7,771.2 327.7,771.2 328.7,771.2 329.7,771.2 330.7,771.2 331.7,771.2 332.7,771.2 333.7,771.2 334.7,771.2 335.7,771.2 336.7,771.2 337.7,771.2 338.7,771.2 339.7,771.2 340.7,771.2 341.7,771.2 342.7,771.2 343.7,771.2 344.7,771.2 345.7,771.2 346.7,771.2 347.7,771.2 348.7,771.2 349.7,771.2 350.7,771.2 351.7,771.2 352.7,771.2 353.7,771.2 354.7,771.2 355.7,771.2 356.7,771.2 357.7,771.2 358.7,771.2 359.7,771.2 360.7,771.2 361.7,771.2 362.7,771.2 363.7,771.2 364.7,771.2 365.7,771.2 366.7,771.2 367.7,771.2 368.7,771.2 369.7,771.2 370.7,771.2 371.7,771.2 372.7,771.2 373.7,771.2 374.7,771.2 375.7,771.2 376.7,771.2 377.7,771.2 378.7,771.2 379.7,771.2 380.7,771.2 381.7,771.2 382.7,771.2 383.7,771.2 384.7,771.2 385.7,771.2 386.7,771.2 387.7,771.2 388.7,771.2 389.7,771.2 390.7,771.2 391.7,771.2 392.7,771.2 393.7,771.2 394.7,771.2 395.7,771.2 396.7,771.2 397.7,771.2 398.7,771.2 399.7,771.2 400.7,771.2 401.7,771.2 402.7,771.2 403.7,771.2 404.7,771.2 405.7,771.2 406.7,771.2 407.7,771.2 408.7,771.2 409.7,771.2 410.7,771.2 411.7,771.2 412.7,771.2 413.7,772.1 414.7,807.9 415.7,774.3 416.7,817.9 417.7,789.9 418.7,819.4 419.7,792.6 420.7,811.4 421.7,790.4 422.7,794.7 423.7,790.5 424.7,801.8 425.7,771.8 426.7,801.8 427.7,771.7 428.7,771.2 429.7,771.2 430.7,771.2 431.7,771.2 432.7,771.2 433.7,771.2 434.7,771.2 435.7,771.2 436.7,771.2 437.7,771.2 438.7,771.2 439.7,771.2 440.7,771.2 441.7,771.2 442.7,771.2 443.7,771.2 444.7,771.2 445.7,771.2 446.7,771.2 447.7,772.7 448.7,807.2 449.7,773.6 450.7,807.2 451.7,781.5 452.7,808.9 453.7,771.5 454.7,809.3 455.7,771.3 456.7,771.2 457.7,771.2 458.7,771.2 459.7,771.2 460.7,771.2 461.7,771.6 462.7,811.5 463.7,772.4 464.7,814.1 465.7,799.0 466.7,811.6 467.7,773.5 468.7,807.5 469.7,773.9 470.7,771.2 471.7,771.2 472.7,771.2 473.7,771.2 474.7,771.2 475.7,771.2 476.7,771.2 477.7,771.2 478.7,771.2 479.7,771.2 480.7,771.2 481.7,771.2 482.7,771.2 483.7,771.2 484.7,771.2 485.7,771.2 486.7,771.2 487.7,771.2 488.7,771.2 489.7,771.2 490.7,771.2 491.7,771.2 492.7,771.2 493.7,771.2 494.7,771.2 495.7,771.2 496.7,771.2 497.7,771.2 498.7,771.2 499.7,771.2 500.7,771.2 501.7,771.2 502.7,771.2 503.7,771.2 504.7,771.2 505.7,771.2 506.7,771.2 507.7,771.2 508.7,771.2 509.7,771.2 510.7,771.2 511.7,771.2 512.7,771.2 513.7,771.2 514.7,771.2 515.7,771.2 516.7,771.2 517.7,771.2 518.7,771.2 519.7,771.2 520.7,771.2 521.7,771.2 522.7,771.2 523.7,771.2 524.7,771.2 525.7,771.2 526.7,771.2 527.7,771.2 528.7,771.2 529.7,771.2 530.7,771.2 531.7,771.2 532.7,771.2 533.7,771.2 534.7,771.2 535.7,771.2 536.7,771.2 537.7,771.2 538.7,771.2 539.7,771.2 540.7,771.2 541.7,771.2 542.7,771.2 543.7,771.2 544.7,771.2 545.7,771.2 546.7,771.2 547.7,771.2 548.7,771.2 549.7,771.2 550.7,771.2 551.7,771.4 552.7,777.8 553.7,771.6 554.7,778.7 555.7,771.8 556.7,779.3 557.7,771.7 558.7,771.8 559.7,771.2 560.7,771.2 561.7,771.2 562.7,771.2 563.7,771.2 564.7,771.2 565.7,771.2 566.7,771.2 567.7,771.2 568.7,771.2 569.7,771.2 570.7,771.2 571.7,771.2 572.7,771.2 573.7,771.2 574.7,771.2 575.7,771.2 576.7,771.2 577.7,771.2 578.7,771.2 579.7,771.2 580.7,771.2 581.7,771.2 582.7,771.2 583.7,771.2 584.7,771.2 585.7,771.2 586.7,771.2 587.7,771.2 588.7,771.2 589.7,771.2 590.7,771.2 591.7,771.2 592.7,771.2 593.7,771.2 594.7,771.2 595.7,771.2 596.7,771.2 597.7,771.2 598.7,771.2 599.7,771.2 600.7,771.2 601.7,771.2 602.7,771.2 603.7,771.2 604.7,771.2 605.7,771.2 606.7,771.2 607.7,771.2 608.7,771.2 609.7,771.2 610.7,771.2 611.7,771.2 612.7,771.2 613.7,771.2 614.7,771.2 615.7,771.2 616.7,771.2 617.7,771.2 618.7,771.2 619.7,771.2 620.7,771.2 621.7,771.2 622.7,771.2 623.7,771.2 624.7,771.2 625.7,771.2 626.7,771.2 627.7,771.2 628.7,771.2 629.7,771.2 630.7,771.2 631.7,771.2 632.7,771.2 633.7,771.2 634.7,771.2 635.7,771.2 636.7,771.2 637.7,771.2 638.7,771.2 639.7,771.2 640.7,771.2 641.7,771.2 642.7,771.2 643.7,771.2 644.7,771.2 645.7,771.2 646.7,771.2 647.7,771.2 648.7,771.2 649.7,771.2 650.7,771.2 651.7,771.2 652.7,771.2 653.7,771.2 654.7,771.2 655.7,771.2 656.7,771.2 657.7,771.2 658.7,771.2 659.7,771.2 660.7,771.2 661.7,771.2 662.7,771.2 663.7,771.2 664.7,772.7 665.7,771.7 666.7,789.6 667.7,772.9 668.7,817.1 669.7,781.8 670.7,818.8 671.7,780.3 672.7,815.6 673.7,776.3 674.7,809.3 675.7,771.3 676.7,771.2 677.7,771.2 678.7,771.2 679.7,771.2 680.7,771.2 681.7,771.2 682.7,771.2 683.7,771.2 684.7,771.2 685.7,771.2 686.7,774.3 687.7,773.5 688.7,801.1 689.7,771.3 690.7,801.7 691.7,771.5 692.7,790.6 693.7,771.2 694.7,771.2 695.7,771.2 696.7,771.2 697.7,771.2 698.7,771.2 699.7,771.2 700.7,771.2 701.7,771.2 702.7,771.2 703.7,771.7 704.7,781.2 705.7,773.3 706.7,814.9 707.7,776.3 708.7,818.1 709.7,774.3 710.7,817.3 711.7,771.4 712.7,795.4 713.7,771.2 714.7,771.2 715.7,771.2 716.7,771.2 717.7,771.2 718.7,771.2 719.7,771.2 720.7,771.2 721.7,771.2 722.7,771.2 723.7,771.2 724.7,771.2 725.7,771.2 726.7,771.2 727.7,771.2 728.7,771.2 729.7,771.2 730.7,771.2 731.7,771.2 732.7,771.2 733.7,771.2 734.7,771.2 735.7,771.2 736.7,771.2 737.7,771.2 738.7,771.2 739.7,771.2 740.7,771.2 741.7,772.8 742.7,805.4 743.7,772.7 744.7,809.8 745.7,801.9 746.7,809.5 747.7,789.9 748.7,809.2 749.7,784.2 750.7,794.3 751.7,784.4 752.7,792.2 753.7,779.0 754.7,791.1 755.7,772.2 756.7,785.9 757.7,771.6 758.7,771.2 759.7,771.2 760.7,771.2 761.7,771.2 762.7,771.2 763.7,771.2 764.7,771.2 765.7,771.2 766.7,798.2 767.7,774.7 768.7,818.5 769.7,772.0 770.7,824.8 771.7,822.2 772.7,824.9 773.7,807.0 774.7,825.3 775.7,790.3 776.7,811.1 777.7,773.9 778.7,796.4 779.7,773.1 780.7,779.0 781.7,771.2 782.7,771.2 783.7,771.2 784.7,771.2 785.7,771.2 786.7,771.2 787.7,771.2 788.7,771.2 789.7,771.5 790.7,802.6 791.7,774.6 792.7,807.0 793.7,791.2 794.7,809.9 795.7,775.6 796.7,804.3 797.7,772.1 798.7,777.5 799.7,771.2 800.7,771.7 801.7,774.0 802.7,814.0 803.7,774.2 804.7,813.1 805.7,798.8 806.7,815.5 807.7,802.4 808.7,810.1 809.7,788.5 810.7,803.0 811.7,773.8 812.7,798.3 813.7,771.6 814.7,771.8 815.7,771.2 816.7,771.2 817.7,771.2 818.7,781.7 819.7,772.2 820.7,805.3 821.7,773.8 822.7,804.5 823.7,797.3 824.7,804.0 825.7,793.3 826.7,804.7 827.7,793.8 828.7,818.5 829.7,796.3 830.7,815.6 831.7,777.0 832.7,812.3 833.7,771.9 834.7,776.3 835.7,771.2 836.7,771.2 837.7,771.2 838.7,771.2 839.7,771.2 840.7,771.2 841.7,771.2 842.7,771.2 843.7,771.2 844.7,771.2 845.7,771.2 846.7,771.2 847.7,771.2 848.7,771.2 849.7,771.2 850.7,771.2 851.7,771.2 852.7,771.2 853.7,771.2 854.7,771.2 855.7,771.2 856.7,771.2 857.7,771.6 858.7,806.9 859.7,772.3 860.7,807.5 861.7,793.3 862.7,810.2 863.7,799.4 864.7,806.0 865.7,777.4 866.7,801.4 867.7,771.3 868.7,789.0 869.7,771.5 870.7,771.2 871.7,771.2 872.7,771.2 873.7,771.2 874.7,771.2 875.7,771.2 876.7,771.2 877.7,771.2 878.7,782.9 879.7,771.4 880.7,797.6 881.7,772.5 882.7,795.6 883.7,771.9 884.7,783.0 885.7,771.2 886.7,771.2 887.7,771.2 888.7,771.2 889.7,771.2 890.7,820.4 891.7,776.1 892.7,833.8 893.7,776.0 894.7,829.5 895.7,774.0 896.7,803.8 897.7,772.0 898.7,777.8 899.7,771.2 900.7,771.2 901.7,771.2 902.7,771.2 903.7,771.2 904.7,771.2 905.7,771.2 906.7,771.2 907.7,771.2 908.7,771.2 909.7,771.2 910.7,771.2 911.7,771.2 912.7,771.2 913.7,771.2 914.7,771.2 915.7,771.2 916.7,771.2 917.7,771.2 918.7,771.2 919.7,771.2 920.7,771.2 921.7,771.2 922.7,771.2 923.7,771.2 924.7,771.2 925.7,771.2 926.7,771.2 927.7,771.2 928.7,771.2 929.7,771.2 930.7,771.2 931.7,771.2 932.7,771.2 933.7,771.2 934.7,771.2 935.7,772.2 936.7,810.0 937.7,771.5 938.7,815.7 939.7,789.3 940.7,815.8 941.7,805.0 942.7,810.6 943.7,781.9 944.7,802.6 945.7,772.5 946.7,795.4 947.7,772.0 948.7,771.2 949.7,771.2 950.7,771.2 951.7,771.2 952.7,771.2 953.7,771.2 954.7,771.2 955.7,771.2 956.7,771.2 957.7,771.4 958.7,776.4 959.7,772.1 960.7,782.8 961.7,775.9 962.7,823.9 963.7,780.2 964.7,819.4 965.7,804.2 966.7,820.8 967.7,772.9 968.7,817.5 969.7,773.0 970.7,782.6 971.7,771.2 972.7,786.7 973.7,775.0 974.7,802.6 975.7,773.3 976.7,804.4 977.7,785.1 978.7,799.5 979.7,785.6 980.7,812.1 981.7,790.1 982.7,814.6 983.7,806.2 984.7,814.7 985.7,800.5 986.7,809.0 987.7,798.9 988.7,808.4 989.7,782.4 990.7,804.9 991.7,774.8 992.7,801.2 993.7,771.9 994.7,771.2 995.7,771.2 996.7,771.2 997.7,771.2 998.7,771.2 999.7,771.2 1000.7,771.2 1001.7,771.2 1002.7,771.2 1003.7,771.2 1004.7,771.2 1005.7,771.2 1006.7,771.2 1007.7,771.2 1008.7,771.2 1009.7,771.2 1010.7,771.2 1011.7,771.2 1012.7,782.3 1013.7,775.3 1014.7,822.9 1015.7,775.9 1016.7,820.3 1017.7,812.3 1018.7,824.1 1019.7,803.2 1020.7,823.6 1021.7,803.0 1022.7,812.1 1023.7,799.1 1024.7,801.0 1025.7,797.4 1026.7,799.6 1027.7,795.9 1028.7,797.9 1029.7,795.1 1030.7,796.3 1031.7,795.2 1032.7,794.8 1033.7,794.8 1034.7,794.8 1035.7,794.8 1036.7,794.8 1037.7,794.8 1038.7,794.4 1039.7,793.3 1040.7,794.5 1041.7,791.7 1042.7,794.0 1043.7,790.1 1044.7,792.2 1045.7,788.1 1046.7,790.3 1047.7,786.1 1048.7,788.8 1049.7,783.3 1050.7,786.5 1051.7,780.1 1052.7,783.6 1053.7,777.5 1054.7,781.3 1055.7,774.3 1056.7,778.2 1057.7,762.0 1058.7,775.7 1059.7,762.0 1060.7,769.9 1061.7,763.2 1062.7,775.6 1063.7,768.4 1064.7,776.2 1065.7,760.3 1066.7,774.5 1067.7,756.4 1068.7,764.6 1069.7,755.7 1070.7,770.3 1071.7,759.3 1072.7,770.7 1073.7,768.4 1074.7,771.2 1075.7,771.2 1076.7,771.2 1077.7,771.2 1078.7,771.2 1079.7,771.2 1080.7,771.2 1081.7,771.8 1082.7,804.6 1083.7,776.2 1084.7,818.5 1085.7,785.2 1086.7,814.8 1087.7,775.5 1088.7,797.9 1089.7,772.7 1090.7,773.3 1091.7,772.0 1092.7,774.3 1093.7,773.0 1094.7,773.8 1095.7,772.6 1096.7,774.2 1097.7,771.5 1098.7,773.1 1099.7,770.4 1100.7,771.7 1101.7,769.2 1102.7,770.7 1103.7,769.6 1104.7,769.5 1105.7,769.7 1106.7,770.0 1107.7,770.3 1108.7,770.6 1109.7,770.7 1110.7,770.9 1111.7,771.0 1112.7,771.4 1113.7,771.5 1114.7,779.8 1115.7,771.9 1116.7,787.7 1117.7,775.9 1118.7,792.8 1119.7,784.4 1120.7,793.6 1121.7,772.2 1122.7,790.7 1123.7,772.8 1124.7,778.0 1125.7,771.6 1126.7,771.2 1127.7,771.4 1128.7,777.7 1129.7,771.5 1130.7,779.0 1131.7,772.2 1132.7,779.6 1133.7,772.0 1134.7,772.0 1135.7,771.2 1136.7,771.2 1137.7,771.2 1138.7,771.2 1139.7,771.2 1140.7,771.2 1141.7,771.2 1142.7,771.2 1143.7,771.2 1144.7,771.2 1145.7,771.2 1146.7,771.2 1147.7,771.2 1148.7,771.2 1149.7,771.2 1150.7,771.2 1151.7,771.2 1152.7,771.2 1153.7,771.2 1154.7,771.2 1155.7,771.2 1156.7,771.2 1157.7,771.2 1158.7,773.6 1159.7,772.9 1160.7,814.8 1161.7,773.1 1162.7,811.9 1163.7,800.1 1164.7,815.5 1165.7,777.2 1166.7,813.3 1167.7,776.0 1168.7,797.9 1169.7,771.5 1170.7,771.2 1171.7,771.2 1172.7,771.2 1173.7,771.2 1174.7,771.2 1175.7,771.2 1176.7,771.2 1177.7,771.2 1178.7,808.9 1179.7,772.6 1180.7,813.7 1181.7,772.1 1182.7,814.8 1183.7,815.0 1184.7,815.0 1185.7,815.0 1186.7,814.7 1187.7,777.8 1188.7,814.5 1189.7,773.8 1190.7,802.0 1191.7,771.9 1192.7,771.2 1193.7,771.2 1194.7,771.2 1195.7,771.2 1196.7,771.2 1197.7,771.2 1198.7,771.2 1199.7,771.2 1200.7,771.2 1201.7,771.2 1202.7,771.2 1203.7,771.2 1204.7,771.2 1205.7,771.2 1206.7,771.2 1207.7,771.2 1208.7,771.2 1209.7,771.2 1210.7,771.2 1211.7,771.2 1212.7,771.2 1213.7,771.2 1214.7,771.2 1215.7,771.2 1216.7,771.2 1217.7,771.2 1218.7,771.2" fill="none" stroke="#ed7d31" stroke-width="2.8" stroke-linejoin="round"/>
<polyline points="1014.4,708.2 1015.8,710.2 1017.2,706.6 1018.6,708.0 1020.0,707.1 1021.4,709.6 1022.8,701.8 1024.2,711.4 1025.6,699.5 1027.0,712.4 1028.4,698.7 1029.8,714.9 1031.2,705.2 1032.6,710.3 1034.0,696.2 1035.4,715.5 1036.8,701.2 1038.2,715.8 1039.6,706.3 1041.0,713.4 1042.4,705.4 1043.8,714.7 1045.2,697.0 1046.6,718.2 1048.0,703.9 1049.4,711.0 1050.8,696.2 1052.2,712.2 1053.6,699.1 1055.0,716.7 1056.4,707.6 1057.8,719.3 1059.2,710.6 1060.6,725.5 1062.0,715.8 1063.4,719.8 1064.8,714.3 1066.2,722.7 1067.6,706.3 1069.0,716.7 1070.4,709.2 1071.8,726.5 1073.2,708.9 1074.6,718.2 1076.0,704.4 1077.4,723.6 1078.8,710.1" fill="none" stroke="#4472c4" stroke-width="2.0" stroke-linejoin="round"/><polyline points="1040.0,704.2 1041.4,709.8 1042.8,704.1 1044.2,705.9 1045.6,703.1 1047.0,708.9 1048.4,697.0 1049.8,706.0 1051.2,702.1 1052.6,710.1 1054.0,700.9 1055.4,710.6 1056.8,699.8 1058.2,713.7 1059.6,704.3 1061.0,723.7 1062.4,703.9 1063.8,720.4 1065.2,704.9 1066.6,734.3 1068.0,714.7 1069.4,729.3 1070.8,712.3 1072.2,718.0 1073.6,711.7 1075.0,725.9 1076.4,703.1 1077.8,716.8" fill="none" stroke="#4472c4" stroke-width="2.0" stroke-linejoin="round"/>
<path d="M283.5,771.6H292M344,771.6H372M558,771.6H606M640,771.6H665M898,771.6H936M1203,771.6H1219.5" stroke="#a5a5a5" stroke-width="3.6"/>
<polyline points="663.9,745.8 665.3,775.2 666.7,745.9 668.1,763.2 669.5,740.4 670.9,778.6 672.3,756.5 673.7,766.4 675.1,750.5 676.5,771.6 677.9,762.5 679.3,774.5 680.7,748.3 682.1,773.1 683.5,745.2 684.9,756.3 686.3,751.3 687.7,766.4 689.1,751.5 690.5,768.5 691.9,749.9 693.3,762.1 694.7,760.5 696.1,775.8 697.5,755.2 698.9,779.3 700.3,757.4 701.7,783.4 703.1,767.9 704.5,786.2 705.9,762.3 707.3,775.0 708.7,750.8 710.1,777.7 711.5,746.4 712.9,766.3 714.3,763.6 715.7,781.0 717.1,764.0 718.5,772.1 719.9,764.4 721.3,771.3 722.7,762.7 724.1,774.9 725.5,757.9 726.9,771.2 728.3,763.8 729.7,777.2 731.1,757.2 732.5,770.4 733.9,768.1 735.3,771.1 736.7,756.0 738.1,775.0 739.5,752.4 740.9,778.8 742.3,744.8 743.7,779.9 745.1,737.7 746.5,772.1 747.9,742.2 749.3,768.2 750.7,746.1 752.1,780.2 753.5,755.0 754.9,758.6 756.3,746.4 757.7,774.6 759.1,740.4 760.5,780.2 761.9,738.6 763.3,779.6 764.7,736.3 766.1,760.3 767.5,758.5 768.9,771.0 770.3,753.0 771.7,779.4 773.1,736.0 774.5,777.2 775.9,748.6 777.3,789.2 778.7,750.0 780.1,764.4 781.5,747.0 782.9,784.7 784.3,759.3 785.7,771.6 787.1,743.2 788.5,773.9 789.9,748.4 791.3,782.8 792.7,733.8 794.1,781.1 795.5,742.8 796.9,769.2 798.3,735.0 799.7,768.5 801.1,731.7 802.5,766.9 803.9,749.4 805.3,762.9 806.7,744.5 808.1,776.8 809.5,747.3 810.9,760.3 812.3,745.5 813.7,756.7 815.1,755.6 816.5,779.3 817.9,729.6 819.3,779.8 820.7,755.0 822.1,758.7 823.5,736.3 824.9,775.3 826.3,746.2 827.7,778.1 829.1,744.5 830.5,767.3 831.9,746.2 833.3,767.3 834.7,747.6 836.1,786.6 837.5,744.9 838.9,774.2 840.3,745.8 841.7,778.3 843.1,748.9 844.5,776.1 845.9,738.6 847.3,780.5 848.7,760.6 850.1,786.8 851.5,737.9 852.9,780.4 854.3,751.8 855.7,762.6 857.1,762.3 858.5,762.7 859.9,740.5 861.3,771.2 862.7,751.7 864.1,784.5 865.5,763.3 866.9,783.9 868.3,765.9 869.7,776.7 871.1,747.2 872.5,782.6 873.9,748.7 875.3,783.2 876.7,759.8 878.1,776.9 879.5,758.5" fill="none" stroke="#a5a5a5" stroke-width="2.0" stroke-linejoin="round"/><polyline points="880.0,749.4 881.4,779.1 882.8,729.1 884.2,792.3 885.6,749.5 887.0,766.6 888.4,731.8 889.8,762.4 891.2,746.3 892.6,791.0 894.0,752.7 895.4,787.4 896.8,758.3 898.2,782.8 899.6,777.8 901.0,782.0 902.4,770.0 903.8,771.7" fill="none" stroke="#a5a5a5" stroke-width="2.0" stroke-linejoin="round"/><polyline points="933.4,771.3 934.8,754.6 936.2,737.7 937.6,755.7 939.0,747.3 940.4,762.4 941.8,743.9 943.2,782.4 944.6,752.5 946.0,781.3 947.4,754.3 948.8,769.3 950.2,744.8 951.6,781.5 953.0,759.3 954.4,780.6 955.8,750.2 957.2,780.8 958.6,736.8 960.0,787.0 961.4,745.1 962.8,793.1 964.2,743.4 965.6,767.5 967.0,726.3 968.4,790.0 969.8,740.9 971.2,762.0 972.6,739.9 974.0,781.3 975.4,741.2 976.8,761.6 978.2,754.3 979.6,788.5 981.0,741.1 982.4,774.0 983.8,731.5 985.2,786.5 986.6,736.2 988.0,771.7 989.4,745.0 990.8,755.4 992.2,727.5 993.6,769.0 995.0,752.3 996.4,781.1 997.8,769.5 999.2,776.2 1000.6,759.1 1002.0,771.0 1003.4,755.3 1004.8,769.1 1006.2,759.0 1007.6,791.8 1009.0,734.7 1010.4,761.1 1011.8,745.0 1013.2,778.8 1014.6,734.5 1016.0,762.4 1017.4,749.8 1018.8,775.3 1020.2,767.3 1021.6,774.3 1023.0,766.8 1024.4,777.8 1025.8,767.9 1027.2,779.6 1028.6,766.1 1030.0,784.6 1031.4,766.6 1032.8,780.4 1034.2,767.7 1035.6,782.8 1037.0,769.6 1038.4,787.8 1039.8,767.0 1041.2,787.7 1042.6,774.9 1044.0,781.9 1045.4,767.1 1046.8,784.4 1048.2,774.6 1049.6,788.0 1051.0,768.3 1052.4,787.2 1053.8,776.6 1055.2,784.9 1056.6,774.8 1058.0,792.2 1059.4,758.9 1060.8,796.0 1062.2,749.9 1063.6,783.3 1065.0,762.3 1066.4,791.3 1067.8,758.9 1069.2,773.2 1070.6,743.4 1072.0,797.1 1073.4,724.2 1074.8,777.0 1076.2,746.9 1077.6,778.9 1079.0,736.3 1080.4,792.3 1081.8,733.6 1083.2,760.9 1084.6,733.0 1086.0,775.6 1087.4,738.2 1088.8,770.9 1090.2,746.4 1091.6,764.9 1093.0,753.6 1094.4,765.6 1095.8,759.0 1097.2,769.1 1098.6,758.7 1100.0,778.0 1101.4,760.2 1102.8,766.9 1104.2,756.6 1105.6,770.1 1107.0,757.9 1108.4,776.0 1109.8,761.9 1111.2,765.2 1112.6,753.0 1114.0,775.3 1115.4,763.8 1116.8,781.0 1118.2,759.7 1119.6,778.7" fill="none" stroke="#a5a5a5" stroke-width="2.0" stroke-linejoin="round"/><polyline points="1119.9,757.9 1121.3,782.5 1122.7,754.6 1124.1,773.6 1125.5,763.6 1126.9,783.2 1128.3,770.0 1129.7,778.4 1131.1,760.8 1132.5,794.2 1133.9,762.9 1135.3,777.7 1136.7,768.9 1138.1,785.9 1139.5,768.4 1140.9,801.3 1142.3,759.6 1143.7,793.8 1145.1,763.0 1146.5,781.8 1147.9,771.2 1149.3,791.8 1150.7,758.7 1152.1,795.8 1153.5,771.7 1154.9,797.5 1156.3,749.6 1157.7,804.2 1159.1,769.8 1160.5,812.7 1161.9,765.7 1163.3,812.8 1164.7,773.8 1166.1,807.3 1167.5,767.6 1168.9,797.0 1170.3,765.4 1171.7,786.2 1173.1,771.6 1174.5,797.3 1175.9,774.7 1177.3,792.6 1178.7,771.2 1180.1,782.3 1181.5,766.9 1182.9,775.3 1184.3,763.5 1185.7,787.1 1187.1,764.3 1188.5,777.4 1189.9,757.9 1191.3,777.8 1192.7,756.9 1194.1,781.5 1195.5,762.2 1196.9,780.8 1198.3,770.2 1199.7,786.8 1201.1,772.9 1202.5,783.7" fill="none" stroke="#a5a5a5" stroke-width="2.0" stroke-linejoin="round"/><polyline points="400.0,765.5 401.4,773.9 402.8,767.5 404.2,774.4 405.6,768.7 407.0,770.9 408.4,767.4 409.8,767.5 411.2,764.3 412.6,766.5 414.0,756.6 415.4,776.1 416.8,760.2 418.2,765.6 419.6,745.1 421.0,782.0 422.4,749.5 423.8,784.9 425.2,757.6 426.6,772.1 428.0,758.8 429.4,783.6 430.8,759.7 432.2,777.5 433.6,762.1 435.0,778.6 436.4,768.8 437.8,773.3 439.2,770.0 440.6,776.1 442.0,763.1 443.4,776.2 444.8,758.0 446.2,770.3 447.6,745.5 449.0,770.4 450.4,749.9 451.8,766.1 453.2,764.1 454.6,774.9 456.0,754.7 457.4,776.2 458.8,770.0 460.2,783.0 461.6,764.2 463.0,783.4 464.4,760.1 465.8,777.0 467.2,762.1 468.6,770.8 470.0,751.4 471.4,773.9 472.8,767.5 474.2,771.1 475.6,765.0 477.0,774.8 478.4,771.9 479.8,783.3 481.2,769.4 482.6,778.1 484.0,766.0 485.4,776.4 486.8,764.4 488.2,773.9 489.6,763.1 491.0,774.9 492.4,764.8 493.8,773.7 495.2,763.5 496.6,774.5 498.0,760.8 499.4,774.0 500.8,761.3 502.2,771.8 503.6,764.5 505.0,777.4 506.4,769.6 507.8,774.2 509.2,766.6 510.6,778.9 512.0,766.7 513.4,777.7 514.8,772.4 516.2,774.0 517.6,767.4 519.0,773.0 520.4,768.7 521.8,773.7 523.2,769.7 524.6,774.9 526.0,770.8 527.4,773.3 528.8,767.6 530.2,773.0 531.6,767.2 533.0,773.6 534.4,769.4 535.8,772.1 537.2,765.8 538.6,771.2 540.0,769.9 541.4,771.0 542.8,766.9 544.2,774.8 545.6,769.3 547.0,772.6 548.4,767.3 549.8,777.1 551.2,766.6 552.6,775.1 554.0,765.3 555.4,778.7 556.8,764.2 558.2,771.3 559.6,765.4 561.0,772.3 562.4,770.0 563.8,771.8 565.2,771.2" fill="none" stroke="#a5a5a5" stroke-width="2.0" stroke-linejoin="round"/>
<polyline points="283.7,771.2 284.7,771.2 285.7,771.2 286.7,771.2 287.7,771.2 288.7,770.8 289.7,759.7 290.7,770.5 291.7,743.0 292.7,755.9 293.7,731.1 294.7,744.0 295.7,729.5 296.7,766.3 297.7,745.5 298.7,768.1 299.7,733.5 300.7,750.9 301.7,732.2 302.7,756.1 303.7,746.0 304.7,787.8 305.7,761.4 306.7,809.8 307.7,789.0 308.7,808.4 309.7,790.4 310.7,798.8 311.7,781.6 312.7,788.4 313.7,777.2 314.7,781.1 315.7,771.5 316.7,776.1 317.7,765.4 318.7,770.1 319.7,760.2 320.7,763.8 321.7,759.0 322.7,758.9 323.7,757.0 324.7,758.6 325.7,739.6 326.7,755.0 327.7,729.4 328.7,737.8 329.7,729.3 330.7,744.0 331.7,737.7 332.7,763.1 333.7,746.8 334.7,781.7 335.7,765.5 336.7,789.5 337.7,786.1 338.7,813.5 339.7,790.6 340.7,823.3 341.7,786.8 342.7,816.0 343.7,776.9 344.7,783.9 345.7,773.1 346.7,775.2 347.7,772.6 348.7,772.5 349.7,772.5 350.7,772.4 351.7,772.4 352.7,772.3 353.7,772.2 354.7,772.2 355.7,772.1 356.7,772.1 357.7,772.0 358.7,771.9 359.7,771.9 360.7,771.8 361.7,771.7 362.7,771.7 363.7,771.6 364.7,771.6 365.7,771.5 366.7,771.4 367.7,771.4 368.7,770.8 369.7,756.4 370.7,769.0 371.7,744.5 372.7,754.1 373.7,743.3 374.7,748.2 375.7,744.3 376.7,766.1 377.7,750.2 378.7,800.9 379.7,768.0 380.7,798.6 381.7,767.7 382.7,787.8 383.7,745.6 384.7,764.0 385.7,735.9 386.7,742.1 387.7,733.2 388.7,734.8 389.7,733.3 390.7,813.2 391.7,733.4 392.7,813.9 393.7,748.4 394.7,788.1 395.7,748.4 396.7,790.5 397.7,768.2 398.7,793.1 399.7,774.5 400.7,784.4 401.7,773.4 402.7,773.3 403.7,772.7 404.7,772.7 405.7,772.5 406.7,772.6 407.7,769.8 408.7,771.9 409.7,767.3 410.7,769.3 411.7,758.6 412.7,765.5 413.7,737.9 414.7,755.3 415.7,719.1 416.7,740.3 417.7,721.5 418.7,751.1 419.7,742.4 420.7,753.5 421.7,749.8 422.7,751.2 423.7,748.4 424.7,749.4 425.7,747.2 426.7,747.6 427.7,747.1 428.7,749.8 429.7,748.3 430.7,774.8 431.7,750.4 432.7,794.6 433.7,777.9 434.7,810.7 435.7,794.4 436.7,810.9 437.7,784.3 438.7,793.8 439.7,784.7 440.7,793.9 441.7,772.9 442.7,784.5 443.7,759.8 444.7,771.1 445.7,747.9 446.7,757.7 447.7,748.0 448.7,762.8 449.7,734.5 450.7,761.2 451.7,732.8 452.7,759.5 453.7,743.9 454.7,807.0 455.7,762.6 456.7,814.0 457.7,762.6 458.7,789.3 459.7,731.4 460.7,756.4 461.7,707.7 462.7,728.1 463.7,709.3 464.7,773.5 465.7,735.3 466.7,789.4 467.7,777.2 468.7,790.7 469.7,754.7 470.7,783.0 471.7,749.5 472.7,772.3 473.7,758.2 474.7,781.9 475.7,765.1 476.7,781.9 477.7,753.4 478.7,767.7 479.7,753.8 480.7,784.8 481.7,770.4 482.7,785.0 483.7,767.2 484.7,777.2 485.7,762.1 486.7,768.0 487.7,763.1 488.7,780.0 489.7,769.2 490.7,783.2 491.7,776.7 492.7,782.2 493.7,769.5 494.7,775.4 495.7,759.2 496.7,767.9 497.7,748.9 498.7,756.5 499.7,744.3 500.7,765.0 501.7,748.6 502.7,770.9 503.7,750.9 504.7,767.9 505.7,750.1 506.7,767.5 507.7,755.5 508.7,781.8 509.7,770.5 510.7,786.6 511.7,779.3 512.7,786.3 513.7,768.5 514.7,778.2 515.7,752.9 516.7,766.7 517.7,750.3 518.7,795.8 519.7,765.2 520.7,796.1 521.7,778.6 522.7,789.4 523.7,774.7 524.7,777.9 525.7,773.9 526.7,773.6 527.7,773.2 528.7,772.8 529.7,772.4 530.7,772.0 531.7,768.3 532.7,770.9 533.7,739.8 534.7,767.2 535.7,730.5 536.7,769.7 537.7,737.4 538.7,778.7 539.7,769.7 540.7,776.7 541.7,764.7 542.7,769.3 543.7,763.5 544.7,764.6 545.7,762.2 546.7,763.2 547.7,762.0 548.7,768.5 549.7,763.5 550.7,772.0 551.7,744.6 552.7,770.1 553.7,717.3 554.7,742.6 555.7,714.9 556.7,758.7 557.7,732.2 558.7,803.0 559.7,769.2 560.7,812.8 561.7,785.6 562.7,805.2 563.7,774.3 564.7,784.1 565.7,773.0 566.7,772.6 567.7,772.5 568.7,772.4 569.7,772.4 570.7,772.3 571.7,772.3 572.7,772.2 573.7,772.2 574.7,772.1 575.7,772.0 576.7,772.0 577.7,771.9 578.7,771.9 579.7,771.8 580.7,771.8 581.7,771.7 582.7,771.6 583.7,771.6 584.7,771.5 585.7,771.5 586.7,771.4 587.7,771.4 588.7,771.3 589.7,771.3 590.7,771.3 591.7,771.2 592.7,771.2 593.7,771.2 594.7,771.2 595.7,771.2 596.7,771.2 597.7,771.2 598.7,771.2 599.7,771.2 600.7,771.2 601.7,771.2 602.7,771.2 603.7,771.2 604.7,771.2 605.7,760.2 606.7,771.2 607.7,744.2 608.7,758.1 609.7,741.6 610.7,773.3 611.7,754.1 612.7,784.9 613.7,775.5 614.7,791.8 615.7,779.2 616.7,790.4 617.7,775.1 618.7,777.9 619.7,773.7 620.7,773.3 621.7,761.2 622.7,773.0 623.7,738.2 624.7,760.2 625.7,736.7 626.7,778.1 627.7,763.6 628.7,781.1 629.7,776.0 630.7,778.3 631.7,774.6 632.7,775.6 633.7,772.7 634.7,774.1 635.7,765.6 636.7,772.2 637.7,761.8 638.7,785.0 639.7,765.9 640.7,791.3 641.7,775.7 642.7,788.3 643.7,773.1 644.7,774.6 645.7,772.5 646.7,772.5 647.7,772.4 648.7,772.3 649.7,772.3 650.7,772.2 651.7,772.1 652.7,772.1 653.7,772.0 654.7,771.9 655.7,771.9 656.7,771.8 657.7,771.7 658.7,771.6 659.7,771.6 660.7,771.5 661.7,771.4 662.7,771.4 663.7,765.2 664.7,769.8 665.7,744.1 666.7,760.8 667.7,730.4 668.7,749.8 669.7,733.3 670.7,772.7 671.7,754.0 672.7,777.7 673.7,775.3 674.7,779.7 675.7,768.5 676.7,779.4 677.7,751.9 678.7,766.3 679.7,745.9 680.7,750.9 681.7,740.6 682.7,747.0 683.7,739.9 684.7,760.3 685.7,749.1 686.7,763.5 687.7,730.9 688.7,755.6 689.7,728.8 690.7,780.4 691.7,744.3 692.7,800.2 693.7,783.9 694.7,821.2 695.7,804.0 696.7,836.3 697.7,822.7 698.7,845.1 699.7,815.1 700.7,842.3 701.7,779.3 702.7,809.0 703.7,749.0 704.7,770.6 705.7,723.7 706.7,746.9 707.7,725.2 708.7,788.5 709.7,751.3 710.7,810.8 711.7,796.3 712.7,832.3 713.7,814.3 714.7,827.8 715.7,770.7 716.7,811.0 717.7,746.7 718.7,770.2 719.7,738.0 720.7,783.5 721.7,748.9 722.7,811.3 723.7,790.2 724.7,813.0 725.7,767.9 726.7,791.5 727.7,758.5 728.7,764.5 729.7,750.6 730.7,755.8 731.7,743.9 732.7,763.1 733.7,744.2 734.7,788.3 735.7,765.5 736.7,787.6 737.7,750.5 738.7,775.7 739.7,741.1 740.7,753.2 741.7,727.5 742.7,747.5 743.7,727.4 744.7,778.5 745.7,753.3 746.7,778.7 747.7,751.7 748.7,767.0 749.7,729.9 750.7,748.5 751.7,721.3 752.7,739.4 753.7,722.7 754.7,755.1 755.7,740.8 756.7,760.7 757.7,756.4 758.7,778.2 759.7,762.8 760.7,810.3 761.7,781.3 762.7,830.0 763.7,807.4 764.7,830.5 765.7,780.2 766.7,802.9 767.7,738.4 768.7,770.4 769.7,730.9 770.7,746.0 771.7,734.2 772.7,759.5 773.7,749.3 774.7,771.5 775.7,762.0 776.7,775.1 777.7,744.9 778.7,771.0 779.7,737.4 780.7,749.5 781.7,739.8 782.7,779.1 783.7,754.8 784.7,833.8 785.7,788.7 786.7,861.3 787.7,779.3 788.7,846.0 789.7,715.3 790.7,768.8 791.7,713.6 792.7,741.7 793.7,727.8 794.7,787.5 795.7,750.1 796.7,825.9 797.7,792.1 798.7,829.9 799.7,784.4 800.7,814.2 801.7,737.1 802.7,780.7 803.7,728.9 804.7,750.5 805.7,732.3 806.7,764.6 807.7,743.2 808.7,763.1 809.7,721.6 810.7,742.5 811.7,720.4 812.7,775.0 813.7,745.8 814.7,783.6 815.7,750.7 816.7,776.1 817.7,732.2 818.7,745.2 819.7,731.1 820.7,756.7 821.7,745.4 822.7,757.3 823.7,754.8 824.7,756.2 825.7,744.9 826.7,752.8 827.7,730.9 828.7,743.5 829.7,732.1 830.7,766.9 831.7,745.5 832.7,795.9 833.7,773.3 834.7,813.3 835.7,796.5 836.7,812.8 837.7,770.0 838.7,795.9 839.7,754.0 840.7,766.7 841.7,751.0 842.7,762.7 843.7,757.6 844.7,774.9 845.7,764.8 846.7,785.3 847.7,769.1 848.7,785.6 849.7,747.5 850.7,770.1 851.7,750.2 852.7,843.0 853.7,779.7 854.7,875.1 855.7,811.2 856.7,865.8 857.7,743.0 858.7,800.2 859.7,704.9 860.7,733.5 861.7,702.6 862.7,740.3 863.7,720.5 864.7,753.8 865.7,743.1 866.7,765.5 867.7,755.3 868.7,782.7 869.7,767.8 870.7,794.6 871.7,783.9 872.7,794.3 873.7,790.4 874.7,792.4 875.7,786.5 876.7,787.2 877.7,743.3 878.7,781.7 879.7,710.1 880.7,739.9 881.7,710.9 882.7,779.5 883.7,738.7 884.7,816.2 885.7,784.7 886.7,843.1 887.7,760.3 888.7,831.0 889.7,722.1 890.7,767.3 891.7,728.1 892.7,787.6 893.7,769.5 894.7,792.7 895.7,787.9 896.7,814.3 897.7,796.6 898.7,841.1 899.7,816.7 900.7,841.6 901.7,787.6 902.7,823.0 903.7,778.7 904.7,785.4 905.7,772.1 906.7,777.2 907.7,771.4 908.7,771.2 909.7,771.2 910.7,771.2 911.7,771.2 912.7,771.2 913.7,771.2 914.7,771.2 915.7,771.2 916.7,771.2 917.7,771.2 918.7,771.2 919.7,771.2 920.7,771.2 921.7,771.2 922.7,771.2 923.7,771.2 924.7,771.2 925.7,771.2 926.7,771.2 927.7,771.2 928.7,771.2 929.7,771.2 930.7,771.2 931.7,771.2 932.7,769.5 933.7,732.9 934.7,768.2 935.7,720.3 936.7,731.1 937.7,712.7 938.7,727.3 939.7,712.3 940.7,754.1 941.7,730.2 942.7,778.2 943.7,760.2 944.7,806.2 945.7,787.5 946.7,831.3 947.7,810.7 948.7,834.2 949.7,826.0 950.7,830.8 951.7,813.3 952.7,823.5 953.7,780.7 954.7,806.4 955.7,754.8 956.7,775.8 957.7,736.7 958.7,751.6 959.7,736.7 960.7,747.1 961.7,740.3 962.7,749.2 963.7,716.2 964.7,741.7 965.7,715.8 966.7,794.0 967.7,737.9 968.7,795.3 969.7,747.6 970.7,781.4 971.7,731.0 972.7,745.3 973.7,721.3 974.7,727.1 975.7,720.8 976.7,755.1 977.7,730.5 978.7,789.5 979.7,762.2 980.7,790.1 981.7,776.1 982.7,784.6 983.7,761.6 984.7,771.5 985.7,727.5 986.7,758.6 987.7,705.4 988.7,779.7 989.7,711.1 990.7,799.6 991.7,780.3 992.7,816.9 993.7,802.5 994.7,861.1 995.7,820.2 996.7,864.8 997.7,834.0 998.7,854.3 999.7,796.3 1000.7,828.9 1001.7,766.0 1002.7,791.8 1003.7,741.4 1004.7,763.4 1005.7,715.1 1006.7,753.7 1007.7,716.9 1008.7,799.1 1009.7,756.3 1010.7,795.4 1011.7,745.6 1012.7,766.2 1013.7,735.6 1014.7,740.4 1015.7,729.8 1016.7,735.2 1017.7,729.1 1018.7,746.0 1019.7,736.1 1020.7,755.6 1021.7,748.6 1022.7,760.2 1023.7,757.4 1024.7,763.3 1025.7,760.8 1026.7,764.9 1027.7,758.3 1028.7,764.8 1029.7,753.6 1030.7,757.9 1031.7,753.6 1032.7,763.4 1033.7,757.6 1034.7,766.4 1035.7,764.5 1036.7,767.8 1037.7,766.6 1038.7,769.0 1039.7,766.0 1040.7,768.7 1041.7,762.4 1042.7,766.8 1043.7,762.7 1044.7,773.7 1045.7,767.9 1046.7,781.8 1047.7,775.2 1048.7,790.7 1049.7,783.4 1050.7,797.7 1051.7,755.2 1052.7,791.1 1053.7,725.9 1054.7,768.9 1055.7,732.8 1056.7,804.4 1057.7,776.5 1058.7,804.9 1059.7,791.9 1060.7,798.7 1061.7,785.3 1062.7,790.8 1063.7,784.0 1064.7,789.2 1065.7,786.0 1066.7,794.0 1067.7,790.2 1068.7,798.0 1069.7,794.3 1070.7,802.9 1071.7,799.3 1072.7,805.1 1073.7,745.5 1074.7,797.0 1075.7,720.8 1076.7,744.4 1077.7,720.7 1078.7,763.6 1079.7,745.6 1080.7,762.6 1081.7,715.0 1082.7,739.6 1083.7,702.8 1084.7,776.9 1085.7,708.9 1086.7,809.3 1087.7,768.3 1088.7,805.7 1089.7,736.3 1090.7,767.0 1091.7,734.4 1092.7,745.4 1093.7,740.3 1094.7,749.6 1095.7,746.8 1096.7,753.1 1097.7,750.2 1098.7,756.4 1099.7,753.5 1100.7,758.9 1101.7,756.7 1102.7,761.8 1103.7,759.5 1104.7,763.3 1105.7,757.9 1106.7,763.2 1107.7,751.0 1108.7,756.8 1109.7,736.5 1110.7,745.1 1111.7,680.2 1112.7,786.7 1113.7,680.3 1114.7,797.1 1115.7,753.7 1116.7,776.9 1117.7,731.7 1118.7,752.3 1119.7,712.8 1120.7,728.1 1121.7,709.4 1122.7,799.0 1123.7,718.3 1124.7,807.8 1125.7,794.7 1126.7,803.9 1127.7,793.5 1128.7,793.7 1129.7,792.9 1130.7,792.9 1131.7,791.1 1132.7,792.8 1133.7,770.2 1134.7,788.0 1135.7,756.6 1136.7,772.4 1137.7,755.3 1138.7,796.3 1139.7,775.8 1140.7,800.3 1141.7,758.6 1142.7,785.6 1143.7,731.9 1144.7,754.9 1145.7,717.8 1146.7,754.6 1147.7,722.8 1148.7,790.6 1149.7,760.9 1150.7,824.4 1151.7,797.3 1152.7,842.0 1153.7,827.7 1154.7,860.8 1155.7,844.8 1156.7,861.6 1157.7,753.9 1158.7,843.4 1159.7,753.2 1160.7,803.3 1161.7,772.9 1162.7,808.1 1163.7,760.9 1164.7,791.5 1165.7,741.3 1166.7,772.1 1167.7,746.9 1168.7,805.5 1169.7,775.9 1170.7,827.6 1171.7,805.5 1172.7,830.5 1173.7,769.8 1174.7,798.5 1175.7,744.5 1176.7,763.4 1177.7,725.7 1178.7,740.5 1179.7,707.9 1180.7,728.9 1181.7,711.3 1182.7,760.9 1183.7,735.7 1184.7,795.5 1185.7,767.6 1186.7,796.4 1187.7,730.7 1188.7,773.1 1189.7,714.2 1190.7,813.4 1191.7,731.9 1192.7,810.4 1193.7,768.7 1194.7,795.8 1195.7,759.9 1196.7,764.7 1197.7,758.7 1198.7,761.6 1199.7,760.5 1200.7,782.2 1201.7,761.7 1202.7,789.7 1203.7,772.8 1204.7,786.2 1205.7,771.2 1206.7,771.2 1207.7,771.2 1208.7,771.2 1209.7,771.2 1210.7,771.2 1211.7,771.2 1212.7,771.2 1213.7,771.2 1214.7,771.2 1215.7,771.2 1216.7,771.2 1217.7,771.2 1218.7,771.2" fill="none" stroke="#a5a5a5" stroke-width="2.8" stroke-linejoin="round"/>
<text transform="translate(208.40,407.20) scale(0.9922,1)" font-size="35" fill="#000000">100</text>
<text transform="translate(227.02,455.30) scale(1.0014,1)" font-size="35" fill="#000000">80</text>
<text transform="translate(226.84,496.50) scale(1.0063,1)" font-size="35" fill="#000000">60</text>
<text transform="translate(227.92,540.20) scale(0.9777,1)" font-size="35" fill="#000000">40</text>
<text transform="translate(226.84,586.40) scale(1.0063,1)" font-size="35" fill="#000000">20</text>
<text transform="translate(247.37,627.50) scale(0.9524,1)" font-size="35" fill="#000000">0</text>
<text transform="translate(1248.89,675.90) scale(1.0048,1)" font-size="35" fill="#000000">30</text>
<text transform="translate(1248.52,713.40) scale(1.0146,1)" font-size="35" fill="#000000">20</text>
<text transform="translate(1250.83,750.80) scale(0.9800,1)" font-size="35" fill="#000000">10</text>
<text transform="translate(1251.43,787.90) scale(1.0536,1)" font-size="35" fill="#000000">0</text>
<text transform="translate(1238.31,823.30) scale(1.0110,1)" font-size="35" fill="#000000">-10</text>
<text transform="translate(1238.31,858.60) scale(1.0110,1)" font-size="35" fill="#000000">-20</text>
<text transform="translate(1238.31,893.50) scale(1.0110,1)" font-size="35" fill="#000000">-30</text>
<text transform="translate(271.50,924.60) scale(1.0714,1)" font-size="35" fill="#000000">0</text>
<text transform="translate(379.22,924.60) scale(1.0199,1)" font-size="35" fill="#000000">200</text>
<text transform="translate(506.29,924.60) scale(1.0115,1)" font-size="35" fill="#000000">400</text>
<text transform="translate(631.73,924.60) scale(1.0127,1)" font-size="35" fill="#000000">600</text>
<text transform="translate(758.91,924.60) scale(1.0095,1)" font-size="35" fill="#000000">800</text>
<text transform="translate(876.30,924.60) scale(1.0267,1)" font-size="35" fill="#000000">1000</text>
<text transform="translate(1003.73,924.60) scale(1.0172,1)" font-size="35" fill="#000000">1200</text>
<text transform="translate(1129.70,924.60) scale(1.0267,1)" font-size="35" fill="#000000">1400</text>
<text transform="translate(705.29,963.50) scale(1.0177,1)" font-size="35" fill="#000000">Time [s]</text>
<text transform="translate(760.22,430.00) scale(1.0212,1)" font-size="35" fill="#000000">Vehicle speed</text>
<text transform="translate(395.27,471.00) scale(1.0097,1)" font-size="35" fill="#000000">Battery SOC</text>
<path d="M986,429L1030,438.4M395.3,472.6L353.3,489.7" stroke="#111" stroke-width="2.5" fill="none"/>
<path d="M300.3,854.5H358.5" stroke="#4472c4" stroke-width="4.5"/>
<path d="M514,852.3H572" stroke="#ed7d31" stroke-width="4.5"/>
<path d="M765.5,852.3H822.7" stroke="#a5a5a5" stroke-width="4.5"/>
<text transform="translate(374.09,866.00) scale(1.0406,1)" font-size="35" fill="#000000">Engine</text>
<text transform="translate(586.25,865.50) scale(1.0018,1)" font-size="35" fill="#000000">Generator</text>
<text transform="translate(837.44,865.50) scale(1.0221,1)" font-size="35" fill="#000000">Motor</text>
<text transform="translate(156.20,678.98) rotate(-90) scale(1.0136,1)" font-size="35" fill="#000000">Vehicle speed [km/h],</text>
<text transform="translate(191.80,639.61) rotate(-90) scale(1.0037,1)" font-size="35" fill="#000000">Battery SOC [%]</text>
<text transform="translate(1334.20,887.45) rotate(-90) scale(1.0178,1)" font-size="35" fill="#000000">Engine power,</text>
<text transform="translate(1369.40,912.68) rotate(-90) scale(1.0149,1)" font-size="35" fill="#000000">Generator power,</text>
<text transform="translate(1404.70,914.87) rotate(-90) scale(1.0238,1)" font-size="35" fill="#000000">Motor power [kW]</text>
</g></g>
<use href="#chart" filter="url(#soft)" opacity="0.4"/>
</svg>
</body></html>
